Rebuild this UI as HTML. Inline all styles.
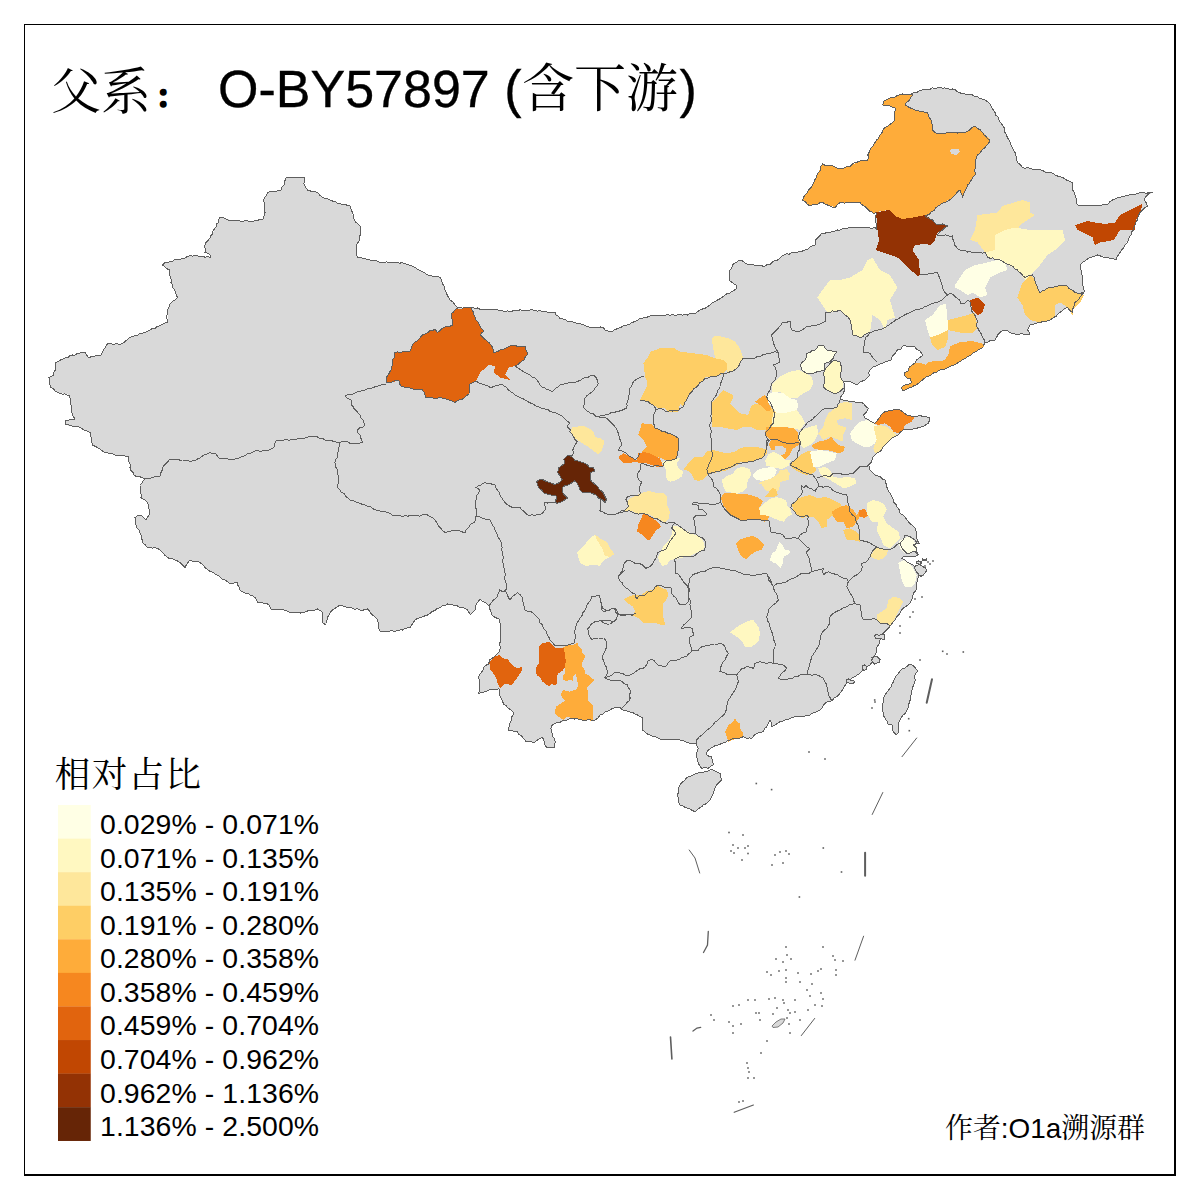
<!DOCTYPE html><html><head><meta charset="utf-8"><title>父系 O-BY57897</title><style>html,body{margin:0;padding:0;background:#fff;}svg{display:block;}</style></head><body>
<svg width="1200" height="1200" viewBox="0 0 1200 1200">
<rect x="0" y="0" width="1200" height="1200" fill="#fff"/>
<g shape-rendering="crispEdges">
<polygon points="48.75,377.5 53.75,375 56,362.5 72.5,355 85,352.5 88.75,357.5 101,355 107.5,343.75 122.5,343.75 130,337.5 145,332.5 167.5,322.5 167.5,310 170,303.75 177.5,297.5 171,282.5 170,270 162.5,265 165,262.5 195,255 210,257.5 210,255 205,252.5 205,245 212.5,233.75 220,217.5 235,221 253.75,221 263.75,218.75 265,212.5 263.75,200 267.5,192.5 281,190 284,185 286,178 300,177.5 305,178 303.75,183.75 307.5,190 317.5,192.5 322.5,197.5 330,200 340,203.75 350,206 353.75,218.75 361,227.5 360,240 356,246 357.5,257.5 370,260 384,262.5 402.5,262.5 415,267.5 427.5,275 440,277.5 442.5,283.75 450,300 457.5,307.5 472.5,307.5 490,310 512.5,311 530,310 555,312.5 560,318.75 576.7,323.3 588.3,326.7 603.3,327.5 605,330 611.7,331.7 618.3,328.3 626.7,325 635,321.7 640,318.5 655,315 677.5,315 695,314 702.5,309 717.5,300 725,295 736,289 736,285 729,280 729,272.5 732.5,265 739,260 750,265 765,266 777.5,260 784,255 805,250 815,245 815,240 821,234 837.5,230 852.5,227.5 875,227.5 877,230 876,220 876,212.5 874,214 860,202.5 840,202.5 835,207.5 822.5,202.5 810,206 802.5,200 805,195 812.5,185 822.5,164 842.5,169 860,161 867.5,160 869,152.5 875,142.5 885,127.5 895,120 895,107.5 882.5,105 884,101 892.5,97.5 902.5,94 911,94 922.5,90 940,87.5 952.5,89 962.5,94 972.5,95 985,100 990,104 995,112.5 999,120 1002.5,125 1005,132.5 1007.5,137.5 1011,145 1015,152.5 1017.5,162.5 1022.5,167.5 1035,169 1050,172.5 1057.5,176 1072.5,182.5 1072.5,190 1075,195 1077.5,205 1090,206 1107.5,205 1112.5,200 1125,196 1140,192.5 1152.5,192.5 1147.5,195 1144,200 1147.5,206 1140,212.5 1135,225 1131,235 1125,245 1120,252.5 1116,260 1107.5,257.5 1097.5,255 1090,257.5 1080,265 1082.5,277.5 1084,292.5 1075,302.5 1072.5,312.5 1067.5,307.5 1060,312.5 1050,320 1040,322.5 1030,325 1027.5,330 1030,335 1015,334 1005,330 1000,332.5 995,340 985,342.5 983.5,346.5 976.7,351.5 970.8,355 965,358.5 959.2,362 953.3,365.5 947.5,367.8 940,370 936.7,372 932,374 926.7,376.7 923.3,379.3 920,382 916.7,384.7 911.3,387.3 906.7,389.3 902.7,390.7 901.3,388 902.7,386 908,384.7 911.3,382.7 910.7,378.7 906.7,378 904,375.3 904,372.7 908,371.3 909.3,367.3 912.7,364.7 915.3,362.7 916.7,360 920,357.3 922.7,355.3 920,350.7 916.7,349.3 914,346 908,346.7 902.7,346 900.7,349.3 897.3,350 895.3,353.3 892,356.7 890.7,360.7 885.3,362 880,364 873.3,366.7 870,370 868.7,372.7 869.3,376 864.7,380 860,382 856.7,385 850,381.7 843.3,381.7 845,386.7 843.3,393.3 840,398.3 843.3,400 853.3,401.7 863.3,403.3 868.3,408.3 866.7,411.7 863.3,415 865,418.3 871.7,421.7 875,423.3 880,416.7 885,411.7 893.3,410 900,410 906.7,415 915,416.7 920,415 930,418.3 928.3,423.3 923.3,426.7 916.7,428.3 908.3,430 903.3,430 898.3,435 895,436.7 890,440 886.7,443.3 883.3,446.7 880,451.7 876.7,453.3 873.3,456.7 871.7,461.7 868.3,465 870,470 873.3,473.3 880,476.7 885,480 886.7,486.7 890,493.3 893.3,500 896.7,506.7 898.3,508.3 900,513.3 905,516.7 908.3,521.7 911.7,525 915,528.3 916.7,533.3 916.7,538.3 919.2,543.3 913.3,545 916.7,548.3 918.3,555 910,556.7 903.3,556.7 901.7,558.3 906.7,561.7 913.3,565 916.7,570 918.3,576.7 916.7,583.3 916.7,588.3 913.3,593.3 911.7,600 908.3,605 903.3,608.3 900,613.3 896.7,616.7 893.3,621.7 888.3,628.3 885,631.7 881.7,635 880,640 878.3,645 876.7,650 875,655 873.3,660 870,665 866.7,666.7 863.3,670 860,673.3 855,676.7 850,680 846.7,683.3 843.3,688.3 840,693.3 836.7,696.7 830,701.7 825,703.3 821.7,708.3 816.7,711.7 810,715 803.3,716.7 796.7,716.7 790,718.3 785,720 780,721.7 775,725 771.7,726.7 770,720 766.7,726.7 763.3,731.7 756.7,733.3 751.7,738.3 746.7,738.3 743.3,736.7 736.7,738.3 730,740 721.7,743.3 713.3,746.7 708.3,750 706.7,755 711.7,756.7 713.3,765 708.3,768.3 701.7,768.3 698.3,763.3 696.7,756.7 698.3,748.3 696.7,743.3 690,743.3 685,741.7 680,740 675,740 660,739 650,735 642.5,730 642.5,717.5 632.5,712.5 622.5,710 620,707.5 615,707.5 610,710 600,715 595,720 580,719.5 571,718 565,721 557.5,722.5 551.5,725.5 551.5,731.5 554.5,739 554.5,748 548.5,748 545.5,746.5 542.5,737.5 535,742 526,742 521.5,736 517,731.5 508,730 509.5,725.5 511.8,719.5 513.3,712 509.5,709 503.5,704.5 499.8,695.5 499,688.8 490,689.5 482.5,692.5 478.8,693.3 480,685 478.8,676 481,673 484,667 488.5,664 490,659.5 496,655 499,652 500,646 500.5,640 500.5,629.5 499,619 491.5,614.5 489,606 485.5,602.5 480,598.8 476.5,604 475,610 470.5,614.5 467.5,610 457.5,606 447.5,604 440,607.5 427.5,615 415,620 410,627.5 402.5,630 390,631 380,631 377.5,620 372.5,615 367.5,609 360,610 350,607.5 340,605 332.5,610 327.5,617.5 326,625 322.5,622.5 322.5,612.5 317.5,609 302.5,612.5 290,612.5 280,609 272.5,610 267.5,604 257.5,602.5 255,597.5 250,595 240,590 237.5,582.5 230,584 225,580 215,574 205,567.5 200,562.5 190,560 185,567.5 177.5,561 167.5,557.5 162.5,552.5 155,547.5 147.5,547.5 142.5,542.5 141,535 136,525 135,517.5 141,515 146,520 150,512.5 147.5,502.5 141,497.5 140,485 145,479 134,475 130,467.5 129,456 115,455 105,452.5 100,449 92.5,445 90,432.5 80,427.5 65,425 65,421 75,419 72.5,415 71,405 70,395 57.5,392.5 51,387.5" fill="#D9D9D9"/>
<polygon points="680,785 688.3,776.7 696.7,773.3 705,771.7 713.3,770 720,773.3 721.7,780 716.7,785 713.3,793.3 710,800 701.7,806.7 695,811.7 688.3,808.3 680,805 677.5,795" fill="#D9D9D9"/>
<polygon points="909.3,664 912.7,665.3 916,668.7 918,671.3 915.3,673.3 915.3,680 912.7,688 910.7,696 908.7,705.3 905.3,713.3 900.7,718.7 898.7,724 898,733.3 896,734.7 893.3,732 892.7,725.3 888,724 885.3,718.7 882.7,710.7 883.3,700 885.3,694.7 889.3,689.3 892,684 896,676 901.3,669.3 906.7,666.7" fill="#D9D9D9"/>
</g>
<g shape-rendering="crispEdges">
<polygon points="457.5,308.75 471,308 476,320 484,331 480,335 491,345 494,352.5 500,350 510,346 525,346 527.5,352.5 524,360 515,366 509,367.5 505,375 510,380 500,377.5 494,372.5 495,366 489,365 480,372.5 476,381 470,384 469,394 462.5,399 455,402.5 449,400 440,397.5 426,397.5 422.5,390 412.5,389 401,386 399,381 386,382.5 386,379 391,370 395,352.5 410,351 412.5,345 422.5,335 435,329 437.5,332.5 444,327.5 452.5,325 451,314 455,310" fill="#E1640E"/>
<polygon points="567.5,455.3 572,456.8 575,460.5 581,462 585.5,463.5 589.3,467.3 593.8,468 594.5,471 590.8,472.5 590,478.5 591.5,481.5 595.3,484.5 599,489 602.8,492 605,496.5 606.5,499.5 605,502.5 602,499.5 598.3,498 596,495 592.3,493.5 587,492.8 581.8,492 579.5,489.8 578.8,486 576.5,482.3 574.3,480.8 570.5,483.8 567.5,485.3 562.3,487.5 562.3,492 566,496.5 567.5,498 563,501 560,502.5 556.3,503.3 555.5,501 557,496.5 554,495 551,495 548,494.3 544.3,493.5 541.3,489.8 537.5,485.3 536.8,481.5 539.8,479.3 545,480.8 551,483 554.8,484.5 558.5,483 562.3,480 560,476.3 557.8,472.5 558.5,468 561.5,465.8 564.5,463.5 563.8,459 566,456.8" fill="#662506"/>
<polygon points="572,427.5 575,426.8 582.5,426 586.3,426.8 590,429 593.8,432.8 595.3,437.3 600.5,438 603.5,440.3 603.5,444.8 601.3,451.5 598.3,454.5 594.5,451.5 588.5,447 582.5,443.3 578,440.3 573.5,437.3 570.5,432" fill="#FEE79B"/>
<polygon points="577,552 583,547 589,539 595,534.5 601,539 607,542 610,548 614.5,554 610,557 604,560 599.5,566 593.5,564.5 586,566 580,563" fill="#FFF8C1"/>
<polygon points="595,534.5 601,539 607,542 610,548 614.5,554 610,557 605,556 602,548 597,540" fill="#FEE79B"/>
<polygon points="628,500 635.5,495.5 643,492.5 649,491 655,492.5 662.5,492.5 667,497 667,504.5 670,512 668.5,519.5 664,522.5 659.5,519.5 655,518 650.5,515 644.5,513.5 637,513.5 631,510.5 623.5,512 628,506" fill="#FEE79B"/>
<polygon points="643,513.5 647.5,515 652,518 656.5,521 659.5,524 661,527 656.5,530 653.5,534.5 649,540.5 646,539 641.5,534.5 637,531.5 638.5,524 641.5,518" fill="#F6871F"/>
<polygon points="671.5,527 676,525.5 682,528.5 688,531.5 694,534.5 698.5,536 703,540.5 704.5,546.5 703,551 697,552.5 691,555.5 685,557 677.5,558.5 670,560 667,564.5 662.5,566 659.5,561.5 658,557 661,551 664,545 668.5,540.5 671.5,534.5" fill="#FFF8C1"/>
<polygon points="623.5,599 629.5,596 635.5,594.5 641.5,594.5 646,591.5 652,590 656.5,585.5 662.5,588.5 667,590 668.5,594.5 665.5,600.5 662.5,605 662.5,614 664,620 665.5,624.5 659.5,624.5 655,623 649,623 643,623 638.5,618.5 632.5,615.5 635.5,611 632.5,606.5 628,603.5" fill="#FECE65"/>
<polygon points="730,632.5 736,627.5 740,625 747.5,621 753.3,620 758.3,626.7 760,633.3 758.3,641.7 751.7,646.7 745,646.7 742,641 737.5,637.5" fill="#FFF8C1"/>
<polygon points="736,543.5 740.5,539 746.5,537.5 753.3,535.8 760,540 764,545 761.7,549.7 754.7,552 750,555.5 746.5,559 741.8,556.7 738.3,550.8" fill="#FEAC3A"/>
<polygon points="769.8,560.2 772.2,553.2 775.7,550.8 778,545 779.2,541.5 782.7,545 785,549.7 790.8,550.8 788.5,554.3 783.8,556.7 782.7,563.7 780.3,568.3 776.8,563.7 773.3,562.5" fill="#FFFFE5"/>
<polygon points="720.8,498.3 724.3,492.5 731.3,492.5 737.2,493.7 743,493.7 750,494.8 757,497.2 762.8,500.7 761.7,504.2 759.3,507.7 760.5,512.3 766.3,513.5 769.8,515.8 767.5,520.5 764,521.7 758.2,519.3 750,519.3 743,520.5 737.2,518.2 731.3,514.7 726.7,510 723.2,505.3" fill="#FEAC3A"/>
<polygon points="759.3,508.8 761.7,505.3 766.3,501.8 771,498.3 776.8,497.2 781.5,498.3 786.2,500.7 787.3,505.3 790.8,510 792,514.7 787.3,517 783.8,521.7 779.2,520.5 773.3,518.2 768.7,515.8 760.5,514.7" fill="#FFF8C1"/>
<polygon points="791.7,505 798.3,498.3 803.3,496.7 810,495 818.3,498.3 825,496.7 833.3,500 840,503.3 843.3,508.3 836.7,511.7 833.3,515 826.7,520 826.7,526.7 821.7,528.3 818.3,521.7 813.3,516.7 806.7,516.7 801.7,518.3 795,513.3" fill="#FECE65"/>
<polygon points="831.7,511.7 840,506.7 846.7,505 853.3,510 856.7,515 860,510 865,510 868.3,515 866.7,517 860,516.7 856.7,521.7 853.3,526.7 846.7,528.3 843.3,521.7 836.7,521.7 833.3,516.7" fill="#FEAC3A"/>
<polygon points="859,510 865,509 868.3,515 864,518 859,516" fill="#F6871F"/>
<polygon points="843.3,530 850,528.3 856.7,531.7 860,536.7 860,541.7 853.3,540 846.7,540 845,535" fill="#FECE65"/>
<polygon points="866.7,503.3 873.3,500 880,501.7 885,505 886.7,510 883.3,516.7 886.7,523.3 893.3,528.3 898.3,531.7 900,538.3 895,543.3 890,548.3 883.3,545 880,536.7 876.7,530 878.3,521.7 871.7,521.7 866.7,513.3" fill="#FFF8C1"/>
<polygon points="898.3,541.7 903.3,538.3 908.3,536.7 913.3,540 916.7,545 916.7,550 910,553.3 905,553.3 900,548.3" fill="#FFFFE5"/>
<polygon points="870,556.7 873.3,551.7 876.7,546.7 881.7,548.3 888.3,550 886.7,555 883.3,558.3 878.3,560 873.3,558.3" fill="#FEE79B"/>
<polygon points="898.3,563.3 903.3,560 908.3,563.3 913.3,568.3 916.7,575 915,583.3 911.7,586.7 905,586.7 901.7,580 900,571.7" fill="#FFFFE5"/>
<polygon points="876.7,615 881.7,611.7 886.7,608.3 888.3,600 893.3,596.7 900,598.3 903.3,601.7 900,608.3 896.7,615 893.3,621.7 890,626.7 886.7,623.3 880,623.3 876.7,620" fill="#FEE79B"/>
<polygon points="725,731.7 728.3,725 733.3,721.7 735,718.3 736.7,721.7 740,723.3 740,728.3 743.3,733.3 743.3,736.7 736.7,738.3 728.3,741.7 726.7,736.7" fill="#FEAC3A"/>
<polygon points="489.3,661.8 494.5,656.5 499,655 502,658 508,659.5 511,664 517,668.5 521.5,667 522.3,670 518.5,676 514,682 511,685 505,683.5 500.5,688 497.5,683.5 496,677.5 493,673 490,670" fill="#E1640E"/>
<polygon points="539.2,645.8 542.5,643.3 549.2,641.7 551.7,644.2 555,647.5 560,648.3 563.3,647.5 565,653.3 565.8,661.7 565,666.7 562.5,670.8 558.3,673.3 556.7,676.7 557.5,681.7 555.8,685 551.7,684.2 549.2,686.7 545.8,684.2 542.5,681.7 540,677.5 536.7,675 535.8,670.8 536.7,665.8 539.2,663.3 539.2,655" fill="#E1640E"/>
<polygon points="563.3,647.5 566.7,645.8 570,644.2 573.3,645 577.5,642.5 578.3,645.8 581.7,649.2 582.5,653.3 585,655 584.2,659.2 581.7,663.3 581.7,666.7 584.2,668.3 585,673.3 589.2,675.8 594.2,680 590.8,684.2 586.7,688.3 588.3,691.7 588.3,700.8 592.5,705 592.5,717.5 594.2,721 585,720 575,719 566.7,716.7 563.3,720 557.5,715.8 555,713.3 555.8,706.7 560,704.2 565,700.8 561.7,696.7 560.8,694.2 563.3,690 570,691.7 576.7,689.2 578.3,685 577.5,681.7 575.8,674.2 573.3,676.7 573.3,680.8 570,680 566.7,680.8 563.3,680 562.5,676.7 565,673.3 565,666.7 565.8,661.7 565,653.3" fill="#FEAC3A"/>
<polygon points="643.3,363.3 648.3,356.7 650.8,351.7 660,348.3 673.3,347.5 680,351.7 693.3,353.3 706.7,355 715,358.3 723.3,360 726.7,363.3 726.7,370 723.3,373.3 720,375 713.3,376.7 705,377.5 701.7,381.7 696.7,386.7 690,393.3 686.7,400 683.3,406.7 680,403.3 678.3,411.7 668.3,411.7 665,408.3 658.3,408.3 653.3,405 648.3,401.7 640,400 643.3,393.3 646.7,386.7 647.5,381.7 645,376.7 644.2,368.3" fill="#FECE65"/>
<polygon points="713.3,336.7 718.3,335.8 728.3,338.3 735,341.7 740,348.3 743.3,358.3 740,363.3 736.7,368.3 731.7,371.7 726.7,373.3 726.7,363.3 723.3,360 715,358.3 713.3,348.3 711.7,340" fill="#FEE79B"/>
<polygon points="618.3,456.7 623.3,453.3 626.7,455 633.3,458.3 636.7,460 638.3,453.3 646.7,451.7 653.3,455 660,458.3 663.3,466.7 656.7,466.7 651.7,465 646.7,463.3 641.7,463.3 635,461.7 628.3,463.3 623.3,463.3 620,460" fill="#F6871F"/>
<polygon points="641.7,423.3 651.7,424.2 655,428.3 665,431.7 673.3,435 678.3,438.3 678.3,450 676.7,460 665,460 661.7,458.3 656.7,456.7 650,453.3 641.7,451.7 646.7,446.7 643.3,440 638.3,435 640,430" fill="#FEAC3A"/>
<polygon points="661.7,461.7 670,460 676.7,458.3 680,458.3 676.7,463.3 678.3,468.3 683.3,471.7 681.7,476.7 676.7,480 670,481.7 666.7,480 665.8,470 663.3,465" fill="#FFF8C1"/>
<polygon points="683.5,469.2 689.3,462.2 694,457.5 703.3,456.7 706.7,451.7 713.3,450 720,451.7 726.7,453.3 735,451.7 740,448.3 746.7,446.7 755,446.7 761.7,448.2 766.3,449.3 767.5,452.8 764,456.3 759.3,458.7 752.3,461 745.3,462.2 740.7,462.2 736,465.7 731.3,468 726.7,470.3 720.8,471.5 715,472.7 709.2,473.8 703.3,479.7 698.7,480.8 694,479.7 691.7,473.8 687,470.3" fill="#FECE65"/>
<polygon points="711.7,403.3 716.7,398.3 720,393.3 723.3,390 726.7,391.7 733.3,395 733.3,398.3 730,403.3 733.3,406.7 740,413.3 748.3,415 751.7,405 760,403.3 765,395 768.3,403.3 773.3,410 776.7,413.3 773.3,420 771.7,426.7 765,430 756.7,430 750,426.7 743.3,426.7 736.7,430 726.7,428.3 720,426.7 711.7,426.7 711.7,413.3" fill="#FECE65"/>
<polygon points="755,401.7 761.7,396.7 765,395 768.3,401.7 771.7,410 766.7,411.7 760,405" fill="#FEAC3A"/>
<polygon points="771.7,385 780,376.7 790,371.7 798.3,370 806.7,373.3 811.7,376.7 813.3,383.3 810,390 803.3,393.3 796.7,398.3 790,398.3 783.3,393.3 778.3,391.7 771.7,391.7" fill="#FFF8C1"/>
<polygon points="800,365 805,360 806.7,353.3 815,350 818.3,345 823.3,345 826.7,350 833.3,351.7 836.7,351.7 833.3,358.3 830,361.7 825,363.3 825,370 818.3,371.7 813.3,373.3 806.7,373.3 801.7,370" fill="#FFFFE5"/>
<polygon points="825,370 830,363.3 835,360 840,361.7 841.7,368.3 840,375 843.3,381.7 843.3,388.3 840,391.7 836.7,393.3 833.3,393.3 826.7,390 823.3,386.7 825,380 823.3,375" fill="#FFF8C1"/>
<polygon points="766.7,395 773.3,391.7 783.3,393.3 790,398.3 796.7,400 798.3,406.7 796.7,410 790,411.7 783.3,413.3 776.7,413.3 773.3,408.3 768.3,403.3" fill="#FFFFE5"/>
<polygon points="773.3,413.3 783.3,413.3 790,411.7 796.7,410 801.7,416.7 805,423.3 800,430 793.3,428.3 785,426.7 778.3,426.7 771.7,426.7 771.7,420" fill="#FFF8C1"/>
<polygon points="766.7,426.7 773.3,426.7 783.3,426.7 793.3,428.3 798.3,433.3 798.3,440 790,441.7 781.7,440 773.3,440 768.3,438.3 765,433.3" fill="#FEAC3A"/>
<polygon points="768.7,444.7 771,440 800.2,440 799,444.7 792,449.3 789.7,455.2 785,459.8 781.5,461 780.3,455.2 776.8,449.3 773.3,450.5 771,449.3" fill="#FEAC3A"/>
<polygon points="774.5,446 781,445.5 786.5,449 785,454 779,455.5 774.5,451.5" fill="#D9D9D9"/>
<polygon points="765.2,461 768.7,454 773.3,451.7 780.3,455.2 785,459.8 790.8,459.8 788.5,465.7 781.5,469.2 776.8,468 771,466.8 766.3,465.7" fill="#FFF8C1"/>
<polygon points="789.7,465.7 794.3,459.8 800.2,455.2 806,451.7 810.7,450.5 813,455.2 813,463.3 816.5,470.3 811.8,473.8 806,475 800.2,472.7 794.3,469.2" fill="#FECE65"/>
<polygon points="722,479.7 726.7,476.2 732.5,473.8 737.2,468 743,466.8 750,469.2 751.2,475 747.7,480.8 746.5,487.8 743,491.3 737.2,493.7 731.3,492.5 725.5,491.3 723.2,486.7" fill="#FFF8C1"/>
<polygon points="752.3,475 757,470.3 764,468 773.3,466.8 776.8,470.3 774.5,476.2 768.7,479.7 761.7,480.8 755.8,479.7" fill="#FFFFE5"/>
<polygon points="758.2,483.2 764,480.8 771,478.5 776.8,475 780.3,470.3 787.3,469.2 789.7,473.8 788.5,479.7 780.3,482 779.2,489 776.8,491.3 771,490.2 766.3,491.3 764,487.8 761.7,484.3" fill="#FEE79B"/>
<polygon points="764,497.2 768.7,492.5 772.2,487.8 775.7,489 778,494.8 773.3,497.2" fill="#FECE65"/>
<polygon points="810,451.7 820,450 830,451.7 836.7,453.3 835,460 826.7,463.3 820,466.7 813.3,466.7 811.7,460" fill="#FFFFE5"/>
<polygon points="798.3,435 801.7,430 810,426.7 816.7,425 818.3,433.3 815,440 810,445 803.3,448.3 800,445" fill="#FFF8C1"/>
<polygon points="818.3,433.3 823.3,426.7 825,420 828.3,413.3 835,408.3 840,403.3 846.7,401.7 851.7,403.3 851.7,413.3 851.7,423.3 846.7,426.7 843.3,435 843.3,441.7 835,438.3 830,436.7 823.3,440" fill="#FEE79B"/>
<polygon points="836.7,420 845,418.3 851.7,420 851.7,426.7 843.3,426.7 838.3,425" fill="#D9D9D9"/>
<polygon points="811.7,445 818.3,441.7 826.7,440 831.7,436.7 833.3,440 838.3,445 845,446.7 843.3,451.7 838.3,453.3 833.3,451.7 826.7,450 820,450 813.3,448.3" fill="#FEAC3A"/>
<polygon points="850,433.3 855,426.7 860,421.7 866.7,420 873.3,423.3 878.3,426.7 878.3,436.7 875,443.3 870,446.7 863.3,446.7 856.7,443.3 851.7,440" fill="#FFFFE5"/>
<polygon points="873.3,426.7 880,425 886.7,426.7 891.7,430 896.7,435 890,440 885,445 880,451.7 875,453.3 873.3,448.3 876.7,440" fill="#FEE79B"/>
<polygon points="875,423.3 880,416.7 885,411.7 893.3,410 900,410 906.7,415 915,416.7 911.7,421.7 905,425 903.3,430 898.3,433.3 893.3,431.7 890,426.7 885,423.3 878.3,425" fill="#F6871F"/>
<polygon points="818.3,468.3 825,466.7 830,470 833.3,476.7 840,478.3 846.7,476.7 855,478.3 856.7,483.3 850,486.7 843.3,488.3 838.3,485 830,480 823.3,476.7 820,473.3" fill="#FFF8C1"/>
<polygon points="802.5,200 805,195 812.5,185 822.5,164 842.5,169 860,161 867.5,160 869,152.5 875,142.5 885,127.5 895,120 895,107.5 882.5,105 884,101 892.5,97.5 902.5,94 911,94 912.5,95 905,105 915,110 927.5,112.5 931,120 932.5,130 937.5,134 950,132.5 965,132.5 975,126 982.5,132.5 990,140 985,147.5 977.5,155 975,165 975,175 967.5,185 962.5,197.5 960,190 952.5,197.5 940,205 927.5,215 925,215 912.5,217.5 902.5,219 895,216 889,210 880,211 874,214 860,202.5 840,202.5 835,207.5 822.5,202.5 810,206" fill="#FEAC3A"/>
<polygon points="950,150 954,148.5 959,149 960,152 956,155 951,154" fill="#D9D9D9"/>
<polygon points="876,212.5 889,210 895,216 902.5,219 912.5,217.5 925,215 932.5,220 937.5,225 942.5,224 947.5,226 942.5,230 937.5,232.5 935,240 931,245 925,244 915,245 912.5,250 919,260 920,275 917.5,276 905,265 897.5,257.5 876,250 879,240 877.5,230" fill="#933204"/>
<polygon points="817.5,297.5 822.5,290 830,280 840,280 850,277.5 862.5,270 867.5,260 872.5,257.5 880,270 890,275 897.5,287.5 890,300 895,317.5 887.5,320 885,330 880,320 872.5,315 870,332.5 860,337.5 852.5,335 850,320 845,315 840,310 827.5,312.5 822.5,305" fill="#FFF8C1"/>
<polygon points="970,240 975,230 977.5,215 997.5,212.5 1002.5,206 1022.5,200 1030,202.5 1030,212.5 1035,215 1027.5,220 1020,225 1017.5,230 1000,235 995,242.5 995,250 985,252.5 977.5,242.5" fill="#FEE79B"/>
<polygon points="995,235 1005,230 1015,227.5 1030,230 1040,230 1050,230 1062.5,230 1065,240 1055,250 1047.5,255 1040,265 1035,270 1025,280 1017.5,270 1007.5,265 1000,260 987.5,257.5 985,252.5 995,250" fill="#FFF8C1"/>
<polygon points="1075,225 1087.5,221 1095,222.5 1105,224 1115,222.5 1120,215 1130,210 1140,205 1142.5,204 1141,210 1136,220 1135,230 1130,230 1120,230 1114,240 1100,242.5 1095,245 1092.5,237.5 1082.5,232.5 1077.5,230" fill="#C14702"/>
<polygon points="955,285 965,270 975,265 987.5,262.5 1000,259 1005,262.5 1007.5,270 1000,272.5 990,277.5 985,287.5 987.5,295 980,297.5 972.5,292.5 967.5,295 960,290 955,287.5" fill="#FFFFE5"/>
<polygon points="1017.5,297.5 1022.5,282.5 1030,275 1035,280 1040,292.5 1050,287.5 1065,285 1075,292.5 1084,295 1080,302.5 1072.5,310 1072.5,315 1067.5,307.5 1060,302.5 1055,305 1055,315 1050,320 1040,322.5 1030,320 1025,315 1022.5,305" fill="#FECE65"/>
<polygon points="970,300 977.5,297.5 985,305 982.5,312.5 977.5,315 972.5,310" fill="#C14702"/>
<polygon points="925,320 932.5,315 940,305 946,304 947.5,320 947.5,330 937.5,335 930,337.5 927.5,330" fill="#FFFFE5"/>
<polygon points="947.5,320 957.5,317.5 967.5,315 975,312.5 977.5,327.5 972.5,332.5 960,332.5 947.5,330" fill="#FECE65"/>
<polygon points="930,337.5 937.5,335 947.5,330 947.5,340 945,347 937.5,350 932,345" fill="#FECE65"/>
<polygon points="909.3,367.3 912.7,364.7 914.7,363.3 920,362.7 926,364.7 927.3,362.7 933.3,361.3 940,361.3 945.2,359.7 948.7,353.8 949.8,346.8 959.2,342.2 972,341 981.3,343.3 983.7,345.7 983.5,346.5 976.7,351.5 970.8,355 965,358.5 959.2,362 953.3,365.5 947.5,367.8 940,370 936.7,372 932,374 926.7,376.7 923.3,379.3 920,382 916.7,384.7 911.3,387.3 906.7,389.3 902.7,390.7 901.3,388 902.7,386 908,384.7 911.3,382.7 910.7,378.7 906.7,378 904,375.3 904,372.7 908,371.3" fill="#FEAC3A"/>
</g>
<g fill="none" stroke="#5E5E5E" stroke-width="1" stroke-linejoin="round" stroke-linecap="round" shape-rendering="crispEdges">
<polyline points="145,479 147.59,478.97 150.07,478.35 152.48,477.39 154.93,476.67 157.5,476.52 160,476 160.71,473.13 162.05,470.45 162.5,467.5 164.17,465.19 166.23,463.23 168.21,461.2 170,459 172.45,459.77 175,459.41 177.52,459.3 179.97,460.16 182.5,460 184.98,460.41 187.53,460.15 189.94,461.32 192.5,461 195.3,460.35 197.69,458.89 200.25,457.75 202.5,456 204.89,454.59 207.64,453.96 210,452.5 212.86,453.79 216,454 217.8,456.66 220,459 222.5,458.96 225,458.44 227.5,458.91 230,459.16 232.5,459.58 235,459 237.69,458.88 240,457.5 242.49,456.39 245.2,455.8 247.37,453.94 250.17,453.56 252.53,452.15 255,451 257.5,450.32 260,451.31 262.5,450.86 265,451 268.16,450.26 271.09,448.89 274,447.5 274.33,444.04 276,441 278.69,440.74 281.42,441.01 284.03,439.89 286.73,439.76 289.49,440.27 292.08,439.07 294.82,439.34 297.5,439 299.94,438.21 302.61,438.79 305.07,438.13 307.49,437.21 309.9,436.28 312.46,436.18 315,436 317.5,437.01 319.77,438.56 322.7,438.49 325,440 327.49,440.4 329.96,440.95 332.5,441 334.99,441.57 337.41,442.43 340,442.5 344,441"/>
<polyline points="344,441 346.88,441.26 349.37,442.97 352.15,443.61 355,444 357.43,443.16 360,442.99 362.5,442.5 361.43,440.03 360.7,437.42 359.88,434.85 357.97,432.71 357.5,430 359.63,427.78 362.76,427.06 365,425 363.67,422.54 362.83,419.84 360.63,417.81 360,415 358.14,413.05 356.63,410.79 354.32,409.25 353.26,406.58 351,405 351.56,402.5 351,400 347.64,398.55 345,396 347.31,394.61 350.02,394.56 352.68,394.34 354.95,392.84 357.39,391.87 359.97,391.4 362.31,390.12 365,390 367.52,388.88 370.23,388.42 372.87,387.74 375.4,386.64 378.02,385.89 380.64,385.12 383.36,384.7 386,384"/>
<polyline points="386,382.5 388.67,382.83 391.27,382.52 393.73,380.98 396.33,380.72 399,381 399.56,383.67 401,386 403.79,387.07 406.69,387.73 409.69,387.99 412.5,389 414.99,389.4 417.49,389.65 419.99,389.86 422.5,390 424.1,392.3 424.92,394.96 426,397.5 428.8,397.35 431.6,397.81 434.4,398.19 437.2,398.13 440,397.5 442.98,398.39 446.02,399.09 449,400 452.12,400.95 455,402.5 457.23,400.74 459.72,399.57 462.5,399 464.64,397.29 466.68,395.47 469,394 469.08,391.48 470.05,389.05 469.79,386.5 470,384 473.04,382.58 476,381"/>
<polyline points="386,382.5 386,379 386.93,376.57 388.55,374.53 389.59,372.16 391,370 391.71,367.53 392.31,365.04 392.12,362.36 392.62,359.85 394.32,357.61 394.1,354.92 395,352.5 397.46,351.88 400.07,352.69 402.5,351.71 405.05,351.97 407.5,351.22 410,351 411.43,348.07 412.5,345 414.15,342.65 416.63,341.13 418.86,339.36 420.52,337.02 422.5,335 425.15,334.1 427.6,332.82 429.74,330.85 432.66,330.53 435,329 437.5,332.5 439.74,330.93 441.66,328.95 444,327.5 446.65,326.04 449.81,326.32 452.5,325 452.09,322.26 452.05,319.46 451.9,316.68 451,314 453.21,312.21 455,310 457.5,308"/>
<polyline points="471,308 472.34,310.26 473.51,312.59 474.13,315.14 475.45,317.41 476,320 478.09,321.84 479.31,324.32 480.33,326.94 482.06,329.05 484,331 481.74,332.74 480,335 482.46,336.71 484.37,339.04 486.81,340.77 489.11,342.66 491,345 492.51,347.3 493.37,349.85 494,352.5 497.23,351.8 500,350 502.67,349.43 505.16,348.4 507.66,347.39 510,346 512.5,345.57 515,345.73 517.5,346.18 520,346.32 522.5,346.5 525,346 525.75,349.44 527.5,352.5 526.86,355.24 525.03,357.44 524,360 521.62,361.3 519.5,362.99 517.5,364.88 515,366"/>
<polyline points="515,366 517.41,367.65 519.83,369.29 522.29,370.85 524.68,372.53 527.33,373.79 530,375 531.99,377.15 535.05,377.8 537,380 538.54,382.48 540,385 542.09,386.94 544.69,387.98 546.92,389.68 549.87,390.13 552,392 553.97,390.22 555.77,388.23 558.04,386.8 560,385 562.8,384.55 565.43,383.23 568.27,382.96 571.07,382.5 574.03,382.82 576.7,381.7 580.17,380.33 583.3,378.3 585.65,377.02 588.43,377.05 590.64,375.34 593.3,375 596.7,378.3 597.34,380.85 598.3,383.3 597.09,386.09 595,388.3 592.99,391.29 590,393.3 587.13,395.43 585,398.3 584.83,401.18 584.26,403.98 583.3,406.7 585.32,409.68 588.3,411.7 590.57,413.42 593.43,413.94 595.51,416.03 598.3,416.7"/>
<polyline points="476,381 478.16,382.46 480.48,383.58 483.01,384.23 485.47,385.03 487.96,385.78 490,387.5 492.46,387.02 494.79,386.06 497.3,385.75 499.55,384.53 502,384 503.92,386.12 506.54,387.42 508.23,389.82 510.46,391.58 512.91,393.07 515,395 517.48,396.3 519.89,397.73 522.69,398.37 525,400 527.47,401.32 529.81,402.88 532.65,403.46 534.81,405.38 537.38,406.48 540,407.5 542.35,408.79 545.07,408.95 547.68,409.46 549.87,411.23 552.37,412.07 555,412.5 557.53,413.68 560,415 562.36,416.23 564.27,418.01 566,420 569.8,423 566.8,426 568.51,428.03 570.5,429.8 569.8,432 571.88,434.06 573.5,436.5 574.89,439.52 577.3,441.8 575,444.8 573.79,447.35 572.8,450 573.22,452.65 572.8,455.3 570.15,455.08 567.5,455.3 566,456.8 563.8,459 564.5,463.5 561.5,465.8 558.5,468 557.8,472.5 560,476.3 562.3,480 558.5,483 554.8,484.5 551,483 547.93,482.08 545,480.8 542.57,479.47 539.8,479.3 536.8,481.5 537.5,485.3 538.96,487.92 541.3,489.8 544.3,493.5 548,494.3 551,495 554,495 557,496.5 555.5,501 556.3,503.3"/>
<polyline points="567.5,455.3 572,456.8 575,460.5 578.06,461.01 581,462 585.5,463.5 587.75,465.05 589.3,467.3 593.8,468 594.5,471 590.8,472.5 590.19,475.47 590,478.5 591.5,481.5 595.3,484.5 597.61,486.37 599,489 602.8,492 603.85,494.27 605,496.5 606.5,499.5 605,502.5 602,499.5 600,500"/>
<polyline points="556.3,503.3 555,502.5 552.5,502.88 550,501.85 547.5,503.02 545,502.5 544.71,505 545.58,507.5 545,510 542.75,512.75 540,515 537.5,514.3 535,515.41 532.5,514.8 530,515.06 527.5,515 525.58,513.17 523.75,511.25 521.57,509.68 520,507.5 517.5,507.04 515,508.07 512.5,507.5 509.79,506.14 507.13,504.73 505,502.5 503.06,500.18 501.56,497.57 500,495 499.25,492.25 497.35,490.08 495.77,487.74 495,485 492.42,484.7 490.17,483.08 487.35,483.72 485,482.5 482.67,483.6 480.58,485.15 478.14,486.05 476,487.5 480,490 478.87,492.61 477.1,494.87 476,497.5 476,500.14 475.79,502.79 475.44,505.43 475.89,508.07 476.5,510.71 476.61,513.36 476,516"/>
<polyline points="556.3,503.3 560,502.5 563,501 565.22,499.46 567.5,498 566,496.5 564.01,494.36 562.3,492 562.3,487.5 564.7,485.93 567.5,485.3 570.5,483.8 574.3,480.8 576.5,482.3 578.8,486 579.5,489.8 581.8,492 584.32,492.91 587,492.8 589.74,492.46 592.3,493.5 596,495 598.3,498 602,499.5 605,502.5"/>
<polyline points="340,442.5 339.4,444.98 339,447.5 338.6,450.02 337.89,452.48 337.5,455 337.06,457.63 335.42,459.86 335,462.5 335.19,465.11 336.04,467.55 337.34,469.88 337.5,472.5 337.97,475.01 338.74,477.45 339,480 338.84,482.57 337.38,484.88 337.5,487.5 340,490 341.51,492.49 344.45,493.55 345.64,496.36 347.9,498.1 350,500 352.55,500.68 355.1,501.38 357.42,502.73 360.02,503.28 362.42,504.41 365,505 367.42,506.21 370.19,506.52 372.36,508.35 374.75,509.63 377.26,510.61 380,511 382.46,511.87 385.18,511.82 387.69,512.48 390.14,513.36 392.33,515.17 395.08,515.02 397.5,516 400,515.81 402.5,516.56 405,515.74 407.5,516.07 410,515.91 412.5,515.39 415,516 417.51,515.92 420.04,516.08 422.46,514.92 424.97,514.82 427.5,515 430.07,516.57 432.86,517.79 435,520 436.67,522.5 437.96,525.25 440,527.5 442.34,530.16 445,532.5 447.51,531.92 450.12,531.73 452.38,530.15 455,530 457.48,530.72 460.04,531.08 462.47,532.01 465,532.5 466.22,529.7 468.65,527.71 470,525 472.25,523.24 475,522.5 475.04,519.18 476,516"/>
<polyline points="476,516 478.82,516.74 481.58,517.68 484.24,518.97 487.21,519.15 490,520 491.24,522.5 492.39,525.05 494.14,527.3 495,530 496.24,532.51 497.34,535.08 498.38,537.68 500,540 501.06,542.39 501.27,544.95 502.06,547.39 501.57,550.09 502.5,552.5 502.48,555.03 503.64,557.44 502.58,560.07 502.85,562.56 503.54,565.02 504,567.5 504.04,570.01 504.88,572.46 505.28,574.95 504.76,577.5 505,580 506.11,582.9 506.43,585.93 506.5,589 503.5,592 501.05,590.8 499,589 499.15,591.63 498.05,594.01 497.5,596.5 495.56,598.56 493.16,600.16 491.5,602.5 489,606"/>
<polyline points="505,590 506.28,592.48 507.3,595.1 508.54,597.6 510,600 511.52,597.77 513.27,595.77 515.5,594.25 517.5,592.5 520.22,594.78 522.5,597.5 522.57,600.09 523.24,602.55 523.86,605.03 524.42,607.52 525,610 527.43,611.05 530.16,611.2 532.5,612.5 535.06,614.94 537.5,617.5 539.41,619.76 540.01,622.79 542.53,624.68 543.12,627.73 545,630 546.78,632.23 547.27,635.12 548.95,637.4 550,640 552.09,641.91 553.66,644.34 556,646 558.5,645.33 561,645.39 563.5,646 566.15,645.89 568.5,644.68 571,644 575,642.5 574.43,640 575.68,637.5 575.63,635 574.46,632.5 575,630 575.73,627.47 576.18,624.84 577.5,622.5 579.03,619.61 581,617 582.4,614.83 583.09,612.27 584.99,610.38 586,608 586.96,605.18 588.61,602.76 590.5,600.5 592,596 594.5,596.44 597,595.86 599.5,596 600.36,598.97 601,602 601.62,605.03 602.5,608 604.77,609.47 607,611 609.93,609.36 613,608 615.03,609.61 615.75,612.19 617.5,614 620,614.65 622.5,614.67 625,614 627.46,614.72 630.04,614.8 632.5,615.5"/>
<polyline points="617.5,614 617.08,617.08 616,620 613,621.5 610.04,620.74 607.04,620.25 604,620 600.92,620.02 598.07,621.43 595,621.5 592.96,623.31 590.5,624.5 589.41,627.02 587.5,629 588.62,631.91 589,635 590.23,637.43 592,639.5 594.87,638.25 598,638 601,638.04 604,638 605.86,640.82 607,644 606.53,647.07 605.5,650 604.09,653.04 602.5,656 602.88,659.13 604.02,662.04 605,665 606.48,667.29 606.96,669.9 607.5,672.5 606.69,675.22 605,677.5 607.27,679.21 610,680 612.5,680.43 615,680.43 617.5,680.46 620,680 622.31,681.95 624.65,683.86 627.5,685 628.38,687.68 630,690 630.34,692.5 629.51,695 630.02,697.5 630,700 627.87,701.62 626.19,703.69 624.44,705.69 622.5,707.5"/>
<polyline points="692,650 690.76,652.35 688.45,653.82 687,656 684.58,656.8 682.09,657.43 680,659 677.56,659.81 675.07,660.34 672.44,660.18 670,661 668.16,662.86 666.88,665.18 665,667 661.57,665.75 658,665 655.9,663.1 654.27,660.73 652,659 648,661 646.98,664.24 645,667 642.82,668.36 640.11,668.48 638,670 635.11,672.17 632,674 628,676 625.22,675.31 622.82,673.6 620,673 617.54,672.32 615,672 612.81,674.38 610,676 607.47,676.93 605,678"/>
<polyline points="696,651 698.39,650.02 700,648 702.25,646.37 705,646 707.56,645.82 710,645 712.41,644.03 715,644 717.63,644.17 720,643 722.9,644.31 725,646.7 726.17,650.24 728.3,653.3 726.42,656.54 725,660 722.93,662.22 721.7,665 720.17,668.18 720,671.7 722.61,672.18 725.07,673.13 727.41,674.45 730,675 733.35,674.69 736.7,675"/>
<polyline points="736.7,675 737.69,678.3 738.3,681.7 737.23,684.48 736.21,687.28 735,690 733.41,692.54 731.7,695 730.1,697.57 728.3,700 727.29,703.3 726.7,706.7 726.18,710.08 725,713.3 721.7,716.7 719.35,718.22 717.64,720.58 715,721.7 713.58,724.35 711.7,726.7 709.33,728.54 706.7,730 704.55,732.85 701.7,735 698.96,737.26 696.7,740 696.7,743.3"/>
<polyline points="736.7,675 738.39,672.79 740.38,670.79 741.7,668.3 744.4,668.11 746.7,666.7 750.07,667.21 753.3,668.3 754.5,665.92 755,663.3 757.59,662.77 760,661.7 763.3,662.72 766.7,663.3 770,662.75 773.3,663.3 775.91,663.07 778.33,663.99 780.74,664.92 783.3,665 786.7,668.3 784.45,671.05 781.7,673.3 780,675.8 778.3,678.3 781.7,680 784.42,679.18 787.33,679.34 790,678.3 792.7,678.07 794.96,676.52 797.72,676.49 800,675 803.35,674.39 806.7,675"/>
<polyline points="806.7,675 809.2,674.55 811.7,675.23 814.2,674.77 816.7,675 820.19,676.27 823.3,678.3 824.45,680.53 825.57,682.76 826.7,685 827.13,687.5 827.56,689.99 828.23,692.45 828.3,695 830.3,697.83 831.7,701"/>
<polyline points="806.7,675 807.74,671.71 808.3,668.3 809.53,665.93 810,663.3 810.88,660.01 811.7,656.7 813.36,654.21 815,651.7 816.53,649.12 818.3,646.7 819.82,643.52 820,640 820.56,636.58 821.7,633.3 823.85,630.45 826.7,628.3 828.07,625.62 830,623.3 829.66,620 830,616.7 833.3,613.3 836.54,611.43 840,610 843.21,608.06 846.7,606.7 849.26,605.06 852.14,604.21 855,603.3"/>
<polyline points="855,603.3 857.32,604.69 860,605 860.31,607.82 860.77,610.61 861.7,613.3 861.95,616.78 863.3,620 865.8,619.66 868.3,620 870.86,619.33 873.3,618.3 876.7,620 880,623.3 883.35,623.87 886.7,623.3 890,626"/>
<polyline points="855,603.3 853.71,600.95 853.3,598.3 851.87,595.65 850,593.3 848.52,589.92 846.7,586.7 847.47,584.19 848.3,581.7 851.7,578.3 853.98,576.32 856.7,575 859.49,572.79 861.7,570 862.13,566.65 861.7,563.3 864.21,562.52 866.7,561.7 868.36,559.2 870,556.7 871.32,553.19 873.3,550 876.7,546.7"/>
<polyline points="801.3,485.5 803.7,487.8 806,485.5 808.57,487.8 811.8,489 815.3,491.3 816.38,488.72 818.3,486.7 820.8,486.03 823.3,487.4 825.8,486.26 828.3,486.7 830.85,487.94 832.64,490.2 835,491.7 837.57,492.29 840,493.3 843.22,494.68 846.7,495 847.6,497.7 847.14,500.66 848.3,503.3 849.11,506.05 849.29,508.93 850,511.7 852.07,514.63 855,516.7 855.76,519.55 856.44,522.44 858,525 858.38,527.74 859.95,530.18 860,533 859.47,536.5 860,540 863.32,540.97 866.7,541.7 870.12,543.11 873.3,545 876.7,546.7"/>
<polyline points="876.7,546.7 879.02,548.07 881.7,548.3 884.84,549.76 888.3,550 891.89,548.84 895,546.7 897.17,544.52 900,543.3 903.3,540 904.27,537.54 905,535 907.53,535.75 910,536.7 912.48,538.39 915,540 917,543"/>
<polyline points="900,543.3 901.38,546.78 903.3,550 906.7,553.3 909.56,553.23 912.15,551.8 915,551.7 918.3,555"/>
<polyline points="811.7,571.7 814.96,570.68 818.3,570 820.99,569.72 823.3,568.3 822.82,571.65 823.3,575 825.58,573.02 828.3,571.7 830.64,573 833.3,573.3 835.45,574.6 838.06,575 840,576.7 843.2,578.12 846.7,578.3 848.3,581.7"/>
<polyline points="766.7,573.3 767.71,576.13 769.71,578.48 771.03,581.16 771.85,584.08 773.3,586.7 775.45,584.49 778.3,583.3 781.17,583.15 783.97,582.6 786.7,581.7 789.71,579.43 793.3,578.3 796.23,576.85 798.9,574.97 801.7,573.3 804.2,573.49 806.7,573.3 809.39,573.11 811.7,571.7"/>
<polyline points="811.7,571.7 811.34,568.86 810.84,566.04 810,563.3 809.77,559.84 808.3,556.7 807.1,554.33 806.7,551.7 810,548.3 807.16,547.16 805,545 801.7,541.7 798.3,538.3"/>
<polyline points="798.3,538.3 800,535 803.11,532.86 806.7,531.7 807,528.23 808.3,525 808.44,522.23 807.85,519.47 808.3,516.7 806.7,515 804.18,516.48 801.3,517 798.98,515.89 796.7,514.7 794.3,511.2 790.8,507.7 792,504.2 794.28,502.36 796.7,500.7 798.13,498.11 800.2,496 802.5,492.5 801.75,489.03 801.3,485.5"/>
<polyline points="720.8,503 722.49,505.93 724.3,508.8 726.8,511 729,513.5 731.06,515.47 733.83,516.39 736,518.2 738.34,519.36 740.7,520.5 745.3,520.5 748.76,519.68 752.3,519.3 755.8,519.18 759.3,519.3 762.12,520.55 765.2,520.5 768.7,520.5 769.8,523.3 769.8,526.3 770.48,529.23 771,532.2 773.97,532.37 776.8,533.3 779.79,533.69 782.7,534.5 785,538 788.5,538.7 792,538 795.16,537.91 798.3,538.3"/>
<polyline points="688.3,586.7 688.92,583.91 689.14,581.04 690,578.3 693,574.5 697.5,573 700.27,571.76 703.3,571.8 706.12,570.83 708.61,569.09 711.5,568.3 715,567.2 717.96,567.42 720.8,568.3 723.55,568.56 726.24,569.3 729,569.5 731.76,570.77 734.8,570.7 737.77,571.8 740.7,573 744.08,574.28 747.7,574.2 751.09,575.43 754.7,575.3 758.14,574.39 761.7,574.2 764.09,573.16 766.7,573.3"/>
<polyline points="766.7,573.3 768.16,576.49 768.3,580 770.4,581.91 771.75,584.38 773.3,586.7 773.91,589.28 775,591.7 776.57,594.28 777.7,597.03 778.3,600 776.07,602.77 773.3,605 770.54,607.24 768.3,610 767.98,613.46 766.7,616.7 767.21,619.31 768.13,621.77 769.66,624.04 770,626.7 770.78,629.22 771.72,631.68 772.59,634.16 773.3,636.7 773.04,639.32 774.71,641.6 775.24,644.09 775,646.7 773.55,649.85 773.3,653.3 773.44,655.8 773.72,658.3 773.54,660.8 773.3,663.3"/>
<polyline points="723.3,373.3 723.21,376.12 722.37,378.76 721.59,381.41 720.12,383.89 720,386.7 718.75,389.2 717.22,391.56 716.75,394.45 715,396.7 713.34,399.19 711.7,401.7 711.22,404.6 711.67,407.5 711.08,410.4 711.7,413.3 710.83,415.91 711.2,418.68 711.37,421.43 709.99,423.98 710,426.7 710.86,429.29 711.36,431.93 710.7,434.72 710.88,437.4 711.7,440 711.13,443.49 711.5,447 711.47,450.61 712.7,454 711.92,457.25 710.92,460.41 709.2,463.3 708.49,466.45 706.8,469.2 708,473.8 709.21,476.55 711.5,478.5 712.79,481.09 713.49,483.84 713.8,486.7 716.62,488.52 718.5,491.3 720.25,494.6 720.8,498.3 720.8,503"/>
<polyline points="708,473.8 711.52,473 715,472 717.55,471.43 720.13,470.93 722.41,469.45 725,469 727.74,468.06 730.54,467.22 733.21,466.11 735.47,464.04 738.3,463.3 741.25,463.11 744.17,462.66 747.08,462.1 750,461.7 753.11,461.48 755.86,460.04 758.75,459.08 761.7,458.3 763.87,456.14 765,453.3 766.03,450.05 766.7,446.7"/>
<polyline points="776.7,330 774.17,332.47 771.7,335 772.38,338.38 773.3,341.7 773.86,344.21 774.79,346.56 775.81,348.87 777.47,350.91 778.3,353.3 778.25,356.22 779.54,358.88 780,361.7 776.77,363.59 773.3,365 774.94,366.98 775.55,369.47 776.7,371.7 776.61,374.56 775.88,377.3 775,380 771.7,383.3 770.7,386.61 770,390 768,393.18 766.7,396.7 767.7,399.52 769.86,401.76 771.21,404.41 772.29,407.19 773.3,410 774.08,412.52 775,415 773.97,417.67 773.45,420.45 773.3,423.3 771.15,425.17 769.87,427.69 768.3,430 765,433.3 766.48,436.73 768.3,440 767.78,443.42 766.7,446.7"/>
<polyline points="776.7,330 778.69,327.54 780.84,325.21 782.5,322.5 785.07,322.34 787.6,322 790,321 790.86,323.94 790.49,327.12 791.7,330 794.98,330.94 798.3,331.7 801.28,330.33 804.08,328.67 806.7,326.7 809.3,326.87 811.65,325.54 814.17,325.24 816.7,325 819.58,324.18 822.28,322.91 825,321.7 825.85,318.91 826,316 825,312.5 827.48,312.01 830.08,312.53 832.42,310.92 835.04,311.61 837.5,311 840,310 842.62,312.38 845,315 847.97,317.03 850,320 850.17,322.54 851.45,324.9 851.62,327.44 851.91,329.96 852.56,332.42 852.5,335 855.15,335.39 857.69,336.1 860,337.5 862.72,336.68 864.74,334.48 867.29,333.33 870,332.5"/>
<polyline points="870,332.5 868.53,335.13 866.1,337.12 865,340 864.16,342.45 864.02,344.95 864,347.47 863.68,349.96 864,352.5 867.09,352.21 870,353.3 871.5,355.9 873.3,358.3 876.7,361.7"/>
<polyline points="870,332.5 872.58,331.91 874.82,330.29 877.55,330.16 880.15,329.62 882.65,328.78 885,327.5 887.15,326.09 889.39,324.8 891.33,323.06 893.59,321.82 895.41,319.9 898,319.14 900,317.5 902.56,316.38 904.86,314.73 907.42,313.6 910.15,312.8 912.46,311.18 915,310 917.7,309.81 920.2,309.03 922.64,308.05 924.83,306.25 927.5,306 929.78,304.45 932.39,303.73 934.93,302.82 937.61,302.27 940,301 942.79,299.36 945.05,297.07 947.5,295"/>
<polyline points="920,275 922.53,274.84 924.99,274.19 927.54,274.24 929.91,272.97 932.54,273.49 934.98,272.68 937.5,272.5 938.19,275.05 939.6,277.35 940.21,279.93 941.14,282.4 941.89,284.92 942.5,287.5 943.47,290.14 945,292.5 947.5,295"/>
<polyline points="947.5,295 950.5,293.3 953.09,294.72 955.2,296.8 957.6,298.42 959.8,300.3 961,303.8 964.5,303.8 968,300.3 969.8,301.5 970.79,304.52 971.08,307.67 971.5,310.8 973.18,313.2 975,315.5 975.97,317.94 977.3,320.2 977.09,323.16 976.2,326 978.12,328.8 979.7,331.8 981.63,334.31 982.38,337.48 984.3,340 984.19,343.04 983.5,346"/>
<polyline points="937.5,235 940,235.11 942.46,235.86 945.04,234.85 947.52,235.36 949.96,236.48 952.5,236 952.77,239.04 954.01,241.91 954,245 956.14,246.5 957.66,248.74 960,250 962.52,250.42 965.13,250.35 967.39,252.04 970.1,251.49 972.5,252.5 975,252.7 977.5,252.67 980,252.44 982.5,253.15 985,252.5 986.66,254.8 987.5,257.5 989.97,258.14 992.61,257.97 994.87,259.64 997.6,259.01 1000,260 1002.49,261.27 1004.79,262.92 1007.26,264.23 1010,265 1012.81,266.2 1014.71,268.77 1017.5,270 1019.04,272.21 1021.43,273.57 1022.87,275.88 1025,277.5 1027.38,276.3 1029.85,275.37 1032.5,275 1034.01,277.31 1034.89,279.89 1035.29,282.68 1036.83,284.98 1037.23,287.77 1038.42,290.22 1040,292.5 1042.32,290.89 1044.96,289.92 1047.23,288.2 1050,287.5 1052.52,287.2 1055.03,286.82 1057.52,286.37 1059.91,285.27 1062.53,285.57 1065,285 1067.33,286.07 1068.71,288.38 1071.03,289.46 1073.34,290.55 1075,292.5 1078,293.17 1081,293.12 1084,292.5"/>
<polyline points="911,94 912.5,95 911.13,97.1 909.8,99.23 908.37,101.28 906.04,102.65 905,105 907.45,106.35 909.88,107.74 912.47,108.82 915,110 917.53,110.34 919.94,111.32 922.48,111.6 924.92,112.39 927.5,112.5 928.46,115.1 929.4,117.7 931,120 931.46,122.49 932.23,124.93 932.61,127.43 932.5,130 934.8,132.24 937.5,134 939.94,133.24 942.53,133.61 945.02,133.27 947.43,132.19 950,132.5 952.5,132.9 955,131.85 957.5,133.01 960,132.98 962.5,132.1 965,132.5 967.67,131.14 970.18,129.52 972.21,127.18 975,126 977.34,128.35 980.34,129.94 982.5,132.5 983.97,134.78 986.06,136.44 987.65,138.6 990,140 988.85,142.85 986.88,145.14 985,147.5 983.01,149.26 981.14,151.14 979.69,153.44 977.5,155 976.35,157.37 975.78,159.88 975.89,162.57 975,165 975.5,167.5 974.77,170 975.13,172.5 975,175 973.32,176.86 972.01,179.01 970.62,181.09 969.54,183.4 967.5,185 966.97,187.69 965.55,190.02 964.2,192.38 963.6,195.04 962.5,197.5 961.99,194.89 960.89,192.48 960,190 957.75,191.5 956.1,193.6 954.55,195.8 952.5,197.5 950.26,199.43 947.81,201.02 945.33,202.55 942.24,203.06 940,205 937.59,206.26 935.61,208.06 934.09,210.43 931.53,211.49 929.91,213.74 927.5,215 925,216 927.24,217.81 929.9,218.86 932.5,220 934.75,222.75 937.5,225 940.03,224.65 942.5,224 945.04,224.89 947.5,226 944.7,227.62 942.5,230 939.54,232.04 937.5,235"/>
<polyline points="598.3,416.7 601.06,417.43 604.02,417.11 606.7,418.3 610,421.7 612.72,423.98 615,426.7 617,429.83 618.3,433.3 618.84,435.91 619.77,438.38 620.33,440.98 621.7,443.3 621.08,445.8 619.53,447.82 618.3,450 621.01,450.23 623.3,451.7 625.77,453.05 627.76,455.04 630,456.7 632.87,457.8 635,460 638.3,456.7 640,453.3"/>
<polyline points="598.3,416.7 601.49,415.22 605,415 608,414.44 610.71,412.87 613.76,412.47 616.7,411.7 619.28,411.08 621.83,410.39 624.18,409.09 626.7,408.3 627.1,405.8 626.84,403.19 627.81,400.79 628.3,398.3 628.55,395.77 629.64,393.38 629.64,390.81 630,388.3 631.97,385.16 633.3,381.7 635.75,379.92 638.3,378.3 640.66,377.07 643.3,376.7"/>
<polyline points="640,400 642.79,400.44 645.52,401.19 648.3,401.7 650.52,403.77 653.3,405 654.95,407.3 655.8,410 654.89,412.67 653.3,415 653.96,417.77 653.84,420.53 653.3,423.3 654.8,425.58 655,428.3 657.65,428.69 659.99,430.02 662.28,431.5 665,431.7 667.67,433.05 670.6,433.74 673.3,435 675.87,436.54 678.3,438.3 678.03,441.23 678.54,444.15 678.9,447.07 678.3,450 677.3,452.68 677.07,455.5 676.7,458.3 674.16,459.5 671.5,460.23 668.81,460.88 666,461 664.08,463.19 663.3,466 660.64,466.55 657.98,465.82 655.32,465.34 652.66,466.65 650,466 647.18,465.25 644.46,464.23 641.7,463.3 640,465"/>
<polyline points="655.8,410 660,408.3 662.38,409.15 664.47,410.55 666.7,411.7 669.55,410.89 672.48,411.02 675.35,410.43 678.3,410.8 680.37,408.22 683.3,406.7 684.16,404.33 685.09,401.99 686.7,400 688.11,396.53 690,393.3 692.32,391.47 693.69,388.69 696.35,387.2 698.3,385 700.17,382.41 703.06,380.83 705,378.3 707.83,378.09 710.46,376.84 713.3,376.7 715.96,376.31 718.4,375.29 720.61,373.59 723.3,373.3"/>
<polyline points="723.3,373.3 726.2,373.3 728.87,372.1 731.7,371.7 734.27,370.1 736.7,368.3 738.77,366.08 740,363.3 741.33,360.59 743.3,358.3 746.65,358.32 750,358.3 752.52,358.02 755.1,358.12 757.4,356.45 760,356.7 762.54,355.01 765.44,354.2 768.3,353.3 771.76,352.94 775,351.7 778.3,353.3"/>
<polyline points="600,500 600.21,502.7 600.1,505.4 600.06,508.1 600,510.8 602.6,511.85 605,513.3 609.2,515 612.1,514.82 615,514.6 617.44,513.41 620,512.5 621.7,510 625,510 628.3,506.7 627.5,502.5 625.8,499.2 627.5,496.7 630.8,495.8 635,495 639.2,495 640.8,493.3 639.2,490 639.35,487.16 640.62,484.64 641.5,482 639.47,480.4 638.05,478.33 637,476 638.2,472.85 640,470 640.65,467.5 640,465"/>
<polyline points="620,512.5 622.51,512.17 625,511.7 629.2,510.8 631.7,511.7 635,513.3 638.3,514.2 640.76,513.49 643.3,513.8 646.7,514.2 650,516.7 653.3,518.3 656.7,518.3 660,520.8 663.3,522.5 666.7,523.3 670.8,522.5 674.2,522.9 676.7,524.2 680,526.7 683.3,529.2 686.7,531.7 690,533.3 692.65,533.6 695.3,533.3 695.02,530 695.3,526.7 694,523.3 694.26,520.71 693.3,518.3 696,515.3 698.71,515.22 701.3,516 706,515.3 706,512.7 702.7,509.7 698.7,509.3 698,505.3 695.42,504.44 692.7,504.3 693.3,502.3 696.01,502.07 698.58,503.42 701.3,503 703.9,503.85 706.7,503.12 709.3,504 711.97,504.56 714.7,504.7 717.58,503.33 720.7,502.7 722.34,505.36 724,508 725.38,510.54 727.91,512.17 729.3,514.7 733.3,516.7 735.95,517.61 738.51,518.7 740.7,520.5"/>
<polyline points="695.3,533.3 698.7,536.7 701.24,537.14 703.3,538.7 705.3,541.3 705.42,544 705.3,546.7 704.7,550 701.3,550.7 697.3,553.3 694.94,555.46 692,556.7 688,556.7 685.3,556 682.6,556 680,556.7 677.09,557.94 674.2,559.2 675.22,562.01 675,565 675.64,567.5 675,570 675,573.3 678.3,574.2 680.8,577.5 683.3,581.7 686.7,585 688.3,588.3 688.98,585.69 689,583"/>
<polyline points="686.7,585 689,588 688.5,591.5 688,595 688.33,598.5 688,602 685,605 682.5,604.81 680,605 678,602 676,598 673.75,596.25 672,594 671.46,591.01 671,588 668.5,587.34 666,588 662,586 658,585 655,587 653.96,589.35 652,591 648,592 645,595 642.5,595.26 640,595 638.3,596.85 637,599 635.46,596.72 635,594 632.25,592.92 630,591 628.27,589.14 626,588 623,585 622.04,582.6 620,581 618,577 620.15,574.49 622.36,572.03 625,570"/>
<polyline points="673.3,524.2 671.7,528.3 674.03,530.57 675.8,533.3 673.3,536.7 670.8,540 668.3,544.2 667.05,546.7 665.8,549.2 661.7,550.8 657.5,552.5 656.7,556.7 654.2,560.8 652.49,564.02 650,566.7 645.8,568.3 642.5,565 639.2,563.3 635,563.3 632.7,561.65 630,560.8 626.7,560.8 624.2,563.3 623.3,566.7 622.86,569.31 621.7,571.7 619.94,574.16 618.3,576.7 618,577"/>
<polyline points="618,613 620.16,615.07 623,616 626.41,614.88 630,615 633.1,614.3 636,613"/>
<polyline points="600,620 601.9,621.63 604,623 606.91,624.04 610,624 612.47,622.45 615,621 617,617 618,613 616,609 613,608 610.82,609.26 609,611 606.38,610.9 604,612 601,609 601.53,606.51 602,604 600,602"/>
<polyline points="689,583 688.42,585.5 689,588 689,591.57 688,595 688.93,597.53 690,600 690.27,602.5 689.86,605.06 690.92,607.48 691,610 691.57,613.49 692,617 689.92,618.92 688.12,621.12 686,623 683.89,624.63 682.26,626.66 681,629 683.62,628.29 686,627 689.67,627.4 693,629 692.82,632.11 694,635 690,637 689.93,640.5 690,644 690.87,647.04 692,650 696,651"/>
<polyline points="766.7,446.7 766.28,443.32 767,440 770.1,440.12 773,439 776.63,439.53 780,441 782.89,442.32 786,443 788.5,443.48 791,443 793.67,443.35 796.33,442.72 799,443 799,447.5"/>
<polyline points="799,447.5 800.14,444.35 800,441 798,437 799.08,434.53 800,432 801.97,429.48 804,427 806.03,424.52 808,422 810.22,420.8 812.41,419.55 813.93,417.41 816,416 817.75,413.97 819.88,412.37 821.6,410.29 824,409 827.03,408.7 830,408 833.6,408.18 837,407 837.62,404.51 839.33,402.48 840,400 840,398.3"/>
<polyline points="799,447.5 799.05,450.33 797.73,452.87 797.93,455.74 796.7,458.3 794.45,460.52 791.76,462.29 790,465 793.3,466.7 796.78,468.09 800,470 803.06,472.25 806.7,473.3 809.95,474.33 813.3,475 814.56,477.8 816.7,480 818.15,483.19 818.3,486.7"/>
<polyline points="816.7,478 820.03,477.11 823.3,476 826.69,475.94 830,476.7 833.3,473.3 836.65,473.5 840,473.3 843.2,474.76 846.7,475 849.84,473.53 853.3,473.3 856.7,470 860,466.7 863.35,466.63 866.7,466.7 868.3,465"/>
<polyline points="800,365 802.23,362.23 805,360 806.44,356.8 806.7,353.3 809.7,352.78 811.99,350.48 815,350 817.06,347.77 818.3,345 820.8,345.3 823.3,345 824.79,347.64 826.7,350 830.17,350.19 833.3,351.7 836.7,351.7 834.59,354.79 833.3,358.3 830,361.7 827.55,362.66 825,363.3 824.57,366.65 825,370 821.64,370.8 818.3,371.7 815.69,372.15 813.3,373.3 810,372.98 806.7,373.3 804.08,371.84 801.7,370 801.07,367.42 800,365"/>
<polyline points="825,370 826.45,367.61 828.42,365.6 830,363.3 832.32,361.38 835,360 837.36,361.26 840,361.7 840.89,364.99 841.7,368.3 841.08,371.71 840,375 841.15,378.6 843.3,381.7"/>
<polyline points="843.3,388.3 840,391.7 836.7,393.3 833.3,393.3 830,391.66 826.7,390 823.3,386.7 824.23,383.37 825,380 824.56,377.36 823.3,375 823.91,372.42 825,370"/>
<polygon points="48.75,377.5 51.3,376.35 53.75,375 53.78,372.42 55.29,370.12 55.68,367.61 55.5,364.99 56,362.5 58.45,361.64 60.55,359.99 62.91,358.93 65.31,357.94 67.9,357.39 69.98,355.7 72.5,355 75.13,355.15 77.38,353.41 79.92,353.08 82.39,352.44 85,352.5 86.57,355.23 88.75,357.5 91.16,356.82 93.64,356.46 96.05,355.76 98.59,355.69 101,355 102.18,352.68 103.25,350.3 104.82,348.2 105.96,345.86 107.5,343.75 110,343.21 112.5,344.2 115,344 117.5,343.98 120,344.29 122.5,343.75 124.91,341.55 127.39,339.45 130,337.5 132.47,336.56 134.96,335.71 137.57,335.22 139.78,333.51 142.48,333.29 145,332.5 147.52,331.43 149.91,330.08 152.23,328.55 155.12,328.32 157.22,326.32 160.04,325.92 162.3,324.28 164.74,323.02 167.5,322.5 167.05,320 166.89,317.5 167.01,315 167.76,312.5 167.5,310 169.05,306.99 170,303.75 172.38,301.52 175.14,299.75 177.5,297.5 176.38,295.01 175.33,292.5 174.73,289.79 172.92,287.61 172.56,284.79 171,282.5 171.07,279.98 170.86,277.48 169.71,275.06 169.62,272.55 170,270 167.14,268.88 164.88,266.85 162.5,265 165,262.5 167.65,262.48 170.13,261.76 172.61,261.08 174.87,259.48 177.57,259.65 180.09,259.12 182.61,258.55 185.1,257.9 187.38,256.39 189.89,255.81 192.6,256.02 195,255 197.45,255.75 199.91,256.38 202.51,256.18 204.91,257.2 207.58,256.59 210,257.5 210,255 207.79,253.18 205,252.5 205.54,250 204.77,247.5 205,245 206,242.41 208.06,240.54 209.72,238.4 210.83,235.88 212.5,233.75 213.01,231.17 214.36,228.98 216.13,226.98 216.27,224.22 218.41,222.4 218.61,219.67 220,217.5 222.59,217.68 225.12,218.14 227.35,219.91 229.87,220.38 232.56,220.17 235,221 237.68,220.43 240.36,221.21 243.04,221.54 245.71,220.32 248.39,221.19 251.07,221.5 253.75,221 256.24,220.38 258.77,219.97 261.34,219.73 263.75,218.75 264.02,215.55 265,212.5 264.43,210.03 264.72,207.48 264.32,204.99 264.05,202.5 263.75,200 264.79,197.4 266.8,195.27 267.5,192.5 270.15,191.71 272.95,191.75 275.7,191.54 278.27,190.36 281,190 281.96,187.18 284,185 284.62,181.39 286,178 288.78,177.29 291.58,177.31 294.38,177.17 297.19,177.38 300,177.5 302.52,177.57 305,178 304.45,180.89 303.75,183.75 305.43,186.99 307.5,190 309.94,190.86 312.44,191.5 315.05,191.69 317.5,192.5 319.84,195.16 322.5,197.5 324.98,198.4 327.66,198.67 330,200 332.48,201 335.09,201.64 337.41,203.04 340,203.75 342.43,204.63 345.08,204.52 347.52,205.35 350,206 350.81,208.53 351.77,211.02 352.87,213.47 353.6,216.02 353.75,218.75 355.03,221.38 357.12,223.34 359.25,225.26 361,227.5 360.57,229.98 360.92,232.53 360.11,234.98 359.57,237.45 360,240 357.68,242.79 356,246 356.42,248.87 356.08,251.84 356.54,254.7 357.5,257.5 360.12,257.39 362.52,258.38 365.01,258.93 367.56,259.19 370,260 372.77,260.66 375.69,260.51 378.34,261.84 381.11,262.49 384,262.5 386.64,261.89 389.29,262.77 391.93,262.17 394.57,262.69 397.21,262.77 399.86,263.17 402.5,262.5 404.85,263.89 407.58,264.29 409.88,265.8 412.68,266.04 415,267.5 417.35,269.26 420.06,270.4 422.67,271.72 425.19,273.19 427.5,275 430.08,275.11 432.42,276.41 435.11,275.95 437.57,276.63 440,277.5 441.65,280.47 442.5,283.75 444.01,285.87 444.35,288.53 445.6,290.77 446.58,293.13 447.35,295.59 448.99,297.65 450,300 452.33,301.42 454.06,303.44 455.61,305.64 457.5,307.5 460,307.8 462.5,308.09 465,307.52 467.5,307.12 470,307.63 472.5,307.5 474.91,308.46 477.53,307.98 479.91,309.17 482.42,309.49 484.98,309.39 487.5,309.62 490,310 492.52,309.59 495.02,309.68 497.53,309.69 499.99,310.6 502.49,310.85 504.97,311.36 507.49,310.92 509.97,311.58 512.5,311 514.99,310.72 517.47,310.2 519.96,309.96 522.48,310.13 525,310.33 527.54,310.82 530,310 532.53,309.97 535.04,310.13 537.47,311.06 540.02,310.84 542.49,311.33 545.05,311.01 547.45,312.24 549.94,312.58 552.46,312.61 555,312.5 556.19,314.96 558.52,316.52 560,318.75 562.96,318.88 565.64,320 568.2,321.56 571.14,321.74 574.03,322.14 576.7,323.3 579.74,323.68 582.63,324.55 585.42,325.77 588.3,326.7 590.77,327.43 593.27,327.5 595.78,327.46 598.28,327.59 600.82,326.93 603.3,327.5 605,330 608.25,331.23 611.7,331.7 614.82,329.66 618.3,328.3 621.11,327.23 623.66,325.49 626.7,325 629.67,324.41 632.04,322.32 635,321.7 637.57,320.21 640,318.5 642.55,318.14 645.05,317.53 647.56,317 649.96,315.99 652.59,315.98 655,315 657.5,315.61 660,315.16 662.5,315.67 665,315.49 667.5,314.38 670,315.24 672.5,314.43 675,315.23 677.5,315 679.99,314.68 682.53,315.21 684.96,313.94 687.54,315.05 689.96,313.65 692.46,313.52 695,314 697.11,311.75 699.71,310.23 702.5,309 705.35,308.08 707.74,306.4 710.3,305 712.27,302.62 715.14,301.73 717.5,300 720.23,298.68 722.68,296.93 725,295 727.05,293.52 729.72,293.18 731.75,291.68 733.92,290.43 736,289 736,285 733.49,283.58 731.25,281.78 729,280 729.36,277.5 729.02,275 729,272.5 730.15,269.99 731.87,267.75 732.5,265 734.6,263.25 737.14,262.06 739,260 742.01,260.67 744.48,262.54 747.13,264.02 750,265 752.55,264.48 754.98,265.61 757.52,265.2 759.99,265.84 762.49,266.01 765,266 767.28,264.34 770.27,264.16 772.34,262.08 774.78,260.74 777.5,260 779.62,258.27 781.46,256.18 784,255 786.5,253.83 789.33,254.11 791.74,252.58 794.51,252.56 797.25,252.4 799.74,251.19 802.48,251.05 805,250 807.71,249.16 809.79,247.08 812.23,245.72 815,245 815.4,242.5 815,240 817.36,238.36 819.35,236.35 821,234 823.82,233.62 826.5,232.68 829.4,232.62 832.08,231.66 834.84,231.02 837.5,230 840.09,230.15 842.4,228.55 845.06,229.08 847.52,228.45 849.89,227.24 852.5,227.5 855,227.16 857.5,227.8 860,227.54 862.5,227.59 865,227.2 867.5,227.59 870,228.03 872.5,228.17 875,227.5 877,230 876.82,227.49 876.82,224.97 875.68,222.56 876,220 875.5,217.5 876.08,215 876,212.5 874,214 872.29,212 869.66,211.13 867.69,209.45 866,207.43 863.83,206 861.68,204.53 860,202.5 857.5,202.98 855,202.61 852.5,202.09 850,202.96 847.5,202.07 845,203.1 842.5,202.85 840,202.5 837.33,204.83 835,207.5 832.24,207.14 829.91,205.73 827.32,204.95 824.86,203.85 822.5,202.5 819.85,202.68 817.63,204.36 814.92,204.3 812.35,204.75 810,206 807.28,204.28 805.32,201.6 802.5,200 803.53,197.39 805,195 806.81,193.23 808.09,191.07 809.33,188.87 811.43,187.32 812.5,185 813.86,182.78 814.49,180.22 815.93,178.04 816.68,175.54 817.78,173.2 819.72,171.26 820.88,168.95 820.96,166.13 822.5,164 824.86,165.19 827.43,165.54 830.17,165.21 832.63,165.97 835.02,167.04 837.37,168.28 839.87,168.88 842.5,169 844.85,167.54 847.47,166.64 850.25,166.11 852.33,164.06 854.77,162.78 857.45,162.03 860,161 862.53,160.92 865.07,160.85 867.5,160 868.52,157.6 867.83,154.87 869,152.5 870.11,149.77 871.55,147.23 873.62,145.07 875,142.5 876.32,140.28 878.35,138.54 879.42,136.16 880.85,134.02 882.36,131.93 883.23,129.41 885,127.5 887.33,126.44 889.3,124.9 891.27,123.36 893.24,121.82 895,120 894.54,117.5 894.37,115 894.81,112.5 895.3,110 895,107.5 892.42,107.41 890.1,105.99 887.6,105.51 885.05,105.23 882.5,105 884,101 886.82,99.81 889.48,98.21 892.5,97.5 895.14,97.03 897.35,95.32 900,94.87 902.5,94 905.33,94.36 908.17,94.19 911,94 913.75,92.65 916.92,92.5 919.54,90.76 922.5,90 924.98,89.53 927.49,89.2 930.04,89.21 932.41,87.93 935.03,88.41 937.5,87.84 940,87.5 942.45,88.22 945.02,87.91 947.49,88.5 949.92,89.35 952.5,89 955.28,89.7 957.32,91.87 960.02,92.71 962.5,94 965.03,93.97 967.53,94.19 970.04,94.36 972.5,95 974.82,96.45 977.65,96.61 979.76,98.6 982.49,99.02 985,100 987.69,101.77 990,104 991.33,107.03 993.24,109.72 995,112.5 995.86,115.25 998.11,117.27 999,120 1000.53,122.65 1002.5,125 1003.96,127.29 1004.59,129.86 1005,132.5 1006.36,134.95 1007.5,137.5 1008.9,139.89 1010.11,142.37 1011,145 1012.25,147.55 1013.36,150.16 1015,152.5 1015.74,154.97 1016.24,157.5 1016.49,160.1 1017.5,162.5 1020.27,164.73 1022.5,167.5 1024.92,168.49 1027.58,167.44 1030.02,168.22 1032.45,169.15 1035,169 1037.58,169.22 1040.05,169.94 1042.6,170.3 1044.85,171.98 1047.38,172.43 1050,172.5 1052.75,173.14 1054.98,174.88 1057.5,176 1060.19,176.64 1062.77,177.55 1065.16,178.89 1067.39,180.59 1069.98,181.45 1072.5,182.5 1072.8,185 1072.39,187.5 1072.5,190 1074.27,192.24 1075,195 1075.84,197.45 1076.8,199.86 1076.43,202.61 1077.5,205 1080.01,205.04 1082.48,205.7 1085.02,205.37 1087.51,205.68 1090,206 1092.51,205.96 1094.98,205.38 1097.5,205.64 1100.02,205.81 1102.47,204.69 1104.98,204.72 1107.5,205 1109.53,202.03 1112.5,200 1115,199.18 1117.33,197.88 1120.01,197.63 1122.36,196.35 1125,196 1127.51,195.45 1129.93,194.54 1132.58,194.59 1135.1,194.1 1137.65,193.71 1140,192.5 1142.5,192.45 1145,193.05 1147.5,193.01 1150,192.27 1152.5,192.5 1149.7,193.15 1147.5,195 1145.22,197.13 1144,200 1146.16,202.76 1147.5,206 1144.77,207.9 1142.33,210.14 1140,212.5 1138.85,214.94 1137.73,217.39 1137.29,220.12 1135.57,222.33 1135,225 1133.71,227.38 1133.41,230.16 1131.39,232.26 1131,235 1129.22,237.33 1128.53,240.32 1127.06,242.84 1125,245 1123.72,247.76 1121.48,249.87 1120,252.5 1118.39,254.85 1116.8,257.22 1116,260 1113.32,258.65 1110.22,258.73 1107.5,257.5 1104.9,257.29 1102.36,256.81 1099.96,255.77 1097.5,255 1095.03,255.94 1092.55,256.83 1090,257.5 1087.73,258.64 1085.91,260.37 1083.74,261.66 1081.7,263.09 1080,265 1080.14,267.57 1080.98,270 1081.62,272.48 1081.95,275.01 1082.5,277.5 1082.81,279.99 1082.76,282.52 1082.76,285.05 1083.25,287.52 1084.09,289.97 1084,292.5 1082.13,294.44 1080.45,296.54 1078.99,298.85 1077.21,300.87 1075,302.5 1074.44,305.02 1073.15,307.35 1072.85,309.93 1072.5,312.5 1069.56,310.44 1067.5,307.5 1064.68,308.68 1062.33,310.57 1060,312.5 1057.91,313.88 1056.41,316.05 1054.16,317.21 1052.14,318.69 1050,320 1047.51,320.65 1045.13,321.76 1042.46,321.7 1040,322.5 1037.46,322.97 1034.95,323.56 1032.5,324.38 1030,325 1028.68,327.46 1027.5,330 1029.23,332.26 1030,335 1027.53,334.38 1025.03,334.15 1022.53,334.01 1020.02,333.96 1017.48,334.53 1015,334 1012.39,333.27 1009.77,332.58 1007.65,330.63 1005,330 1002.27,330.8 1000,332.5 997.82,334.66 996.55,337.42 995,340 992.4,340.22 989.88,340.78 987.63,342.39 985,342.5 983.5,346.5 981.59,348.65 978.65,349.41 976.7,351.5 973.41,352.68 970.8,355 967.74,356.49 965,358.5 962.01,360.11 959.2,362 956.32,363.88 953.3,365.5 950.22,366.18 947.5,367.8 945.08,368.82 942.68,369.87 940,370 936.7,372 934.18,372.61 932,374 929.63,375.9 926.7,376.7 923.3,379.3 920,382 916.7,384.7 913.87,385.73 911.3,387.3 908.92,388.11 906.7,389.3 902.7,390.7 901.3,388 902.7,386 905.22,384.82 908,384.7 911.3,382.7 910.7,378.7 906.7,378 904,375.3 904,372.7 908,371.3 909.3,367.3 912.7,364.7 915.3,362.7 916.7,360 920,357.3 922.7,355.3 921.27,353.04 920,350.7 916.7,349.3 914,346 911.04,346.67 908,346.7 905.41,345.92 902.7,346 900.7,349.3 897.3,350 895.3,353.3 892,356.7 890.7,360.7 887.91,360.97 885.3,362 882.73,363.22 880,364 876.83,365.8 873.3,366.7 870,370 868.7,372.7 869.3,376 867.14,378.17 864.7,380 862.38,381.08 860,382 856.7,385 853.42,383.22 850,381.7 846.65,381.07 843.3,381.7 844.39,384.12 845,386.7 844.63,390.12 843.3,393.3 841.5,395.7 840,398.3 843.3,400 845.82,400.32 848.24,401.18 850.76,401.5 853.3,401.7 855.79,402.17 858.23,402.94 860.87,402.48 863.3,403.3 865.52,406.08 868.3,408.3 866.7,411.7 863.3,415 865,418.3 867.43,419.04 869.48,420.54 871.7,421.7 875,423.3 876.73,421.15 878.38,418.94 880,416.7 882.12,413.82 885,411.7 887.76,411.08 890.47,410.27 893.3,410 896.65,409.69 900,410 902.3,411.58 904.54,413.24 906.7,415 909.55,415.16 912.18,416.39 915,416.7 917.69,416.42 920,415 922.3,416.42 925.14,416.22 927.62,417.12 930,418.3 929.27,420.84 928.3,423.3 925.73,424.89 923.3,426.7 919.94,427.24 916.7,428.3 913.88,428.74 911.1,429.44 908.3,430 905.8,429.3 903.3,430 900.34,432.04 898.3,435 895,436.7 892.27,438 890,440 886.7,443.3 883.3,446.7 881.94,449.39 880,451.7 876.7,453.3 873.3,456.7 872.14,459.09 871.7,461.7 868.3,465 869.76,467.29 870,470 873.3,473.3 875.25,474.99 877.64,475.82 880,476.7 882.17,478.85 885,480 885.95,483.32 886.7,486.7 888.09,490.13 890,493.3 891.96,496.5 893.3,500 893.9,502.5 895.97,504.26 896.7,506.7 898.3,508.3 899.8,510.58 900,513.3 902.67,514.75 905,516.7 906.46,519.33 908.3,521.7 911.7,525 915,528.3 915.8,530.82 916.7,533.3 916.27,535.8 916.7,538.3 917.72,540.92 919.2,543.3 916.14,543.77 913.3,545 916.7,548.3 916.9,551.79 918.3,555 915.66,556.16 912.88,556.67 910,556.7 906.65,557 903.3,556.7 901.7,558.3 904.49,559.58 906.7,561.7 909.97,563.41 913.3,565 914.75,567.67 916.7,570 917.93,573.25 918.3,576.7 917.5,580 916.7,583.3 917.05,585.8 916.7,588.3 915.56,591.18 913.3,593.3 912.82,596.73 911.7,600 910.27,602.68 908.3,605 905.66,606.43 903.3,608.3 901.1,610.44 900,613.3 896.7,616.7 895.5,619.54 893.3,621.7 891.64,623.91 890.01,626.13 888.3,628.3 885,631.7 881.7,635 880.68,637.44 880,640 879.62,642.66 878.3,645 876.89,647.31 876.7,650 876.15,652.6 875,655 874.05,657.46 873.3,660 871.76,662.57 870,665 866.7,666.7 863.3,670 860,673.3 857.45,674.93 855,676.7 852.21,677.91 850,680 846.7,683.3 844.86,685.71 843.3,688.3 841.84,690.92 840,693.3 836.7,696.7 834.09,697.86 832.5,700.4 830,701.7 827.3,701.89 825,703.3 823.15,705.67 821.7,708.3 819.4,710.3 816.7,711.7 813.05,712.74 810,715 806.52,715.35 803.3,716.7 800,716.69 796.7,716.7 793.25,717.08 790,718.3 787.68,719.69 785,720 782.6,721.15 780,721.7 777.52,723.38 775,725 771.7,726.7 771.45,723.2 770,720 768.51,723.43 766.7,726.7 764.43,728.81 763.3,731.7 759.97,732.39 756.7,733.3 753.98,735.58 751.7,738.3 749.2,737.91 746.7,738.3 743.3,736.7 740.12,738 736.7,738.3 733.21,738.58 730,740 727.19,740.98 724.66,742.69 721.7,743.3 719.08,744.89 715.94,745.18 713.3,746.7 710.75,748.28 708.3,750 706.93,752.32 706.7,755 709.04,756.33 711.7,756.7 712.17,759.48 712.88,762.21 713.3,765 710.6,766.34 708.3,768.3 705,767.63 701.7,768.3 699.78,765.95 698.3,763.3 697.53,759.99 696.7,756.7 696.71,753.8 697.14,750.98 698.3,748.3 696.91,745.99 696.7,743.3 693.35,743.48 690,743.3 687.55,742.34 685,741.7 682.66,740.37 680,740 677.5,739.65 675,740 672.54,739.19 669.98,740.01 667.53,739.01 664.98,739.58 662.49,739.34 660,739 657.52,737.94 655.26,736.35 652.48,736.05 650,735 647.16,733.85 644.9,731.82 642.5,730 642.59,727.5 642.76,725 642.01,722.5 642.2,720 642.5,717.5 639.79,716.67 637.51,714.98 634.93,713.88 632.5,712.5 629.94,712.12 627.5,711.24 625.09,710.28 622.5,710 620,707.5 617.5,707.34 615,707.5 612.35,708.46 610,710 607.56,711.37 604.73,711.97 602.74,714.23 600,715 597.92,717.92 595,720 592.48,720.48 590,719.86 587.49,720 584.99,720.09 582.48,720.27 580,719.5 577.07,718.6 573.9,719.11 571,718 567.92,719.34 565,721 562.37,720.86 560.07,722.34 557.5,722.5 554.44,723.89 551.5,725.5 550.96,728.5 551.5,731.5 552.58,733.97 552.95,736.72 554.5,739 555.15,742 554.4,745 554.5,748 551.5,747.61 548.5,748 545.5,746.5 544.49,743.5 543.94,740.35 542.5,737.5 539.65,738.42 537.26,740.09 535,742 532,742.03 529,741.73 526,742 524.92,739.69 523.14,737.9 521.5,736 518.8,734.2 517,731.5 513.93,731.41 511.03,730.35 508,730 509.5,725.5 510.15,722.31 511.8,719.5 511.83,716.91 513.45,714.63 513.3,712 509.5,709 507.5,707.5 505.91,705.45 503.5,704.5 502.7,701.32 501.4,698.35 499.8,695.5 499.29,692.16 499,688.8 496.03,689.4 493.05,689.87 490,689.5 487.64,690.86 485,691.5 482.5,692.5 478.8,693.3 479.35,690.56 479.12,687.7 480,685 479.54,682.01 479.02,679.02 478.8,676 481,673 482.97,670.24 484,667 486.09,665.27 488.5,664 490,659.5 492.28,658.38 494.12,656.66 496,655 499,652 500.1,649.1 500,646 499.94,642.97 500.5,640 500.18,637.38 500.48,634.75 500.17,632.12 500.5,629.5 500.27,626.85 500.38,624.16 499.42,621.62 499,619 496.28,617.87 493.68,616.54 491.5,614.5 490.84,611.62 489.76,608.85 489,606 485.5,602.5 482.37,601.22 480,598.8 478.4,601.5 476.5,604 475.35,606.9 475,610 472.62,612.12 470.5,614.5 468.81,612.38 467.5,610 465.24,608.4 462.75,607.37 459.75,607.62 457.5,606 454.93,605.87 452.53,604.85 449.96,604.72 447.5,604 445.17,605.53 442.32,605.95 440,607.5 437.21,608.52 435.01,610.51 432.17,611.44 429.95,613.41 427.5,615 424.93,615.83 422.49,616.98 419.85,617.62 417.29,618.48 415,620 413.33,622.5 411.69,625.02 410,627.5 407.37,627.94 404.85,628.71 402.5,630 399.98,629.98 397.54,630.87 395.04,631.12 392.52,630.99 390,631 387.5,631.64 385,631.21 382.5,631.19 380,631 378.86,628.37 378.26,625.61 378.31,622.71 377.5,620 375.39,617.11 372.5,615 370.53,613.25 369.41,610.8 367.5,609 365.02,609.45 362.59,610.35 360,610 357.65,608.79 354.87,609.28 352.49,608.15 350,607.5 347.34,607.53 344.93,606.54 342.45,605.82 340,605 337.59,606.81 334.98,608.31 332.5,610 330.29,612.14 329.04,614.91 327.5,617.5 327.07,620.01 326.04,622.41 326,625 322.5,622.5 322.44,620 322.78,617.5 322.42,615 322.5,612.5 320.2,610.47 317.5,609 315.13,610.14 312.6,610.61 309.94,610.48 307.42,611.01 305.04,612.11 302.5,612.5 300,613.14 297.5,612.34 295,613.05 292.5,612.66 290,612.5 287.64,611.22 285.14,610.35 282.65,609.45 280,609 277.57,609.88 274.96,609.34 272.5,610 270.33,608.42 269.69,605.57 267.5,604 265.05,603.29 262.56,602.87 260.07,602.38 257.5,602.5 256.65,599.8 255,597.5 252.66,595.92 250,595 247.77,593.21 244.73,593.04 242.24,591.78 240,590 239.44,587.41 237.83,585.17 237.5,582.5 234.92,582.58 232.52,583.62 230,584 227.72,581.72 225,580 222.22,578.97 220.04,576.94 217.66,575.24 215,574 212.68,572.1 209.76,571.12 207.3,569.43 205,567.5 202.84,564.66 200,562.5 197.6,561.48 195,561.24 192.34,561.28 190,560 188.08,562.33 186.37,564.8 185,567.5 182.64,565.18 180.43,562.67 177.5,561 175.06,559.95 172.65,558.83 169.88,558.71 167.5,557.5 164.79,555.21 162.5,552.5 160.37,550.27 157.89,548.59 155,547.5 152.5,548.05 150,547.33 147.5,547.5 145.18,544.82 142.5,542.5 142.15,539.97 141.35,537.53 141,535 139.57,532.59 139.03,529.74 136.8,527.73 136,525 135.1,522.58 135.68,519.95 135,517.5 137.74,515.62 141,515 143.61,517.39 146,520 147.41,517.54 148.89,515.12 150,512.5 149.04,510.08 148.94,507.45 148.34,504.95 147.5,502.5 145.61,500.48 143.14,499.2 141,497.5 141.4,494.95 140.53,492.51 140.98,489.95 140.06,487.51 140,485 141.91,483.2 143.11,480.81 145,479 142.31,477.83 139.62,476.67 136.54,476.58 134,475 133.01,472.32 130.82,470.27 130,467.5 130.15,464.59 129,461.79 128.89,458.91 129,456 126.18,456.06 123.38,455.93 120.61,455.25 117.78,455.41 115,455 112.61,453.94 109.96,453.91 107.59,452.75 105,452.5 102.35,450.96 100,449 97.52,447.63 95.06,446.23 92.5,445 91.8,442.54 91.89,439.92 91.17,437.47 90.57,434.99 90,432.5 87.6,431.05 84.83,430.34 82.39,428.97 80,427.5 77.59,426.56 75.04,426.4 72.49,426.3 70.11,425.15 67.6,424.8 65,425 65,421 67.56,420.79 69.9,419.48 72.47,419.35 75,419 72.5,415 71.98,412.52 71.83,409.99 71.09,407.54 71,405 70.7,402.51 71.04,399.95 69.71,397.55 70,395 67.39,395.07 65.01,393.96 62.37,394.16 59.96,393.19 57.5,392.5 55.12,391.11 53.4,388.87 51,387.5 50.01,385.1 49.91,382.49 49.82,379.89"/>
<polygon points="680,785 681.73,782.58 684.26,780.96 685.9,778.45 688.3,776.7 691.21,775.84 693.96,774.57 696.7,773.3 699.44,772.61 702.26,772.39 705,771.7 707.79,771.22 710.41,769.94 713.3,770 716.63,771.69 720,773.3 720.69,776.69 721.7,780 719.18,782.48 716.7,785 715.08,787.57 714.13,790.41 713.3,793.3 711.8,796.73 710,800 708.17,801.97 706.18,803.76 703.5,804.69 701.7,806.7 699.31,808.15 697.14,809.91 695,811.7 692.73,810.64 690.53,809.43 688.3,808.3 685.39,807.56 682.78,806.06 680,805 678.89,802.62 678.91,799.96 678.3,797.46 677.5,795 678.36,792.56 678.41,789.91 678.82,787.36"/>
<polygon points="909.3,664 912.7,665.3 916,668.7 918,671.3 915.3,673.3 914.63,676.65 915.3,680 914.49,682.69 913.28,685.24 912.7,688 911.71,690.59 911.75,693.43 910.7,696 910.61,699.22 909.23,702.17 908.7,705.3 908.05,708.17 906.59,710.7 905.3,713.3 902.58,715.65 900.7,718.7 899.21,721.17 898.7,724 899,727.14 898.82,730.24 898,733.3 896,734.7 893.3,732 892.61,728.68 892.7,725.3 888,724 887.06,721.14 885.3,718.7 883.8,716.24 883.2,713.49 882.7,710.7 882.3,707.99 882.48,705.32 883.18,702.68 883.3,700 883.89,697.19 885.3,694.7 887.2,691.92 889.3,689.3 890.94,686.8 892,684 893.61,681.47 894.56,678.61 896,676 898.08,674.02 899.61,671.6 901.3,669.3 904.2,668.41 906.7,666.7"/>
</g>
<g fill="none" stroke="#5E5E5E" stroke-linecap="round">
<polyline points="882.8,792.5 872.2,814.5" stroke-width="1"/>
<polyline points="689.2,850 695,858 699.7,873" stroke-width="1"/>
<polyline points="865.1,852.8 865.1,875.8" stroke-width="2"/>
<polyline points="708.3,931.4 707.5,945 703.5,952.5" stroke-width="1.3"/>
<polyline points="863.6,936.2 855,960.2" stroke-width="1"/>
<polyline points="814.7,1018.4 801.3,1035.6" stroke-width="1"/>
<polyline points="670.5,1037 671.9,1059" stroke-width="1.6"/>
<polyline points="753.4,1105 734.2,1112.3" stroke-width="1.2"/>
<polyline points="693,1031 697,1028 700.7,1027.4" stroke-width="1.3"/>
<polyline points="932,679.3 926.7,702.7" stroke-width="2"/>
<polyline points="916.7,738 902,756.7" stroke-width="1"/>
</g>
<g fill="#5E5E5E">
<rect x="755.5" y="782.7" width="1.6" height="1.6"/>
<rect x="770.8" y="788.8" width="1.6" height="1.6"/>
<rect x="822.5" y="847.2" width="1.6" height="1.6"/>
<rect x="840.7" y="871.2" width="1.6" height="1.6"/>
<rect x="798.6" y="896.2" width="1.6" height="1.6"/>
<rect x="808.2" y="751.2" width="1.6" height="1.6"/>
<rect x="824.2" y="758.2" width="1.6" height="1.6"/>
<rect x="728.2" y="831.7" width="1.6" height="1.6"/>
<rect x="742.2" y="834.2" width="1.6" height="1.6"/>
<rect x="732.2" y="844.2" width="1.6" height="1.6"/>
<rect x="737.2" y="847.2" width="1.6" height="1.6"/>
<rect x="744.2" y="847.2" width="1.6" height="1.6"/>
<rect x="747.2" y="845.2" width="1.6" height="1.6"/>
<rect x="730.2" y="850.2" width="1.6" height="1.6"/>
<rect x="733.2" y="852.2" width="1.6" height="1.6"/>
<rect x="747.2" y="852.7" width="1.6" height="1.6"/>
<rect x="741.2" y="859.2" width="1.6" height="1.6"/>
<rect x="774.2" y="854.2" width="1.6" height="1.6"/>
<rect x="779.2" y="851.2" width="1.6" height="1.6"/>
<rect x="785.2" y="850.2" width="1.6" height="1.6"/>
<rect x="788.2" y="853.2" width="1.6" height="1.6"/>
<rect x="771.2" y="864.2" width="1.6" height="1.6"/>
<rect x="782.2" y="862.2" width="1.6" height="1.6"/>
<rect x="785.2" y="946.2" width="1.6" height="1.6"/>
<rect x="786.2" y="954.2" width="1.6" height="1.6"/>
<rect x="775.2" y="958.2" width="1.6" height="1.6"/>
<rect x="782.2" y="961.2" width="1.6" height="1.6"/>
<rect x="790.2" y="958.2" width="1.6" height="1.6"/>
<rect x="822.2" y="946.2" width="1.6" height="1.6"/>
<rect x="832.2" y="955.2" width="1.6" height="1.6"/>
<rect x="834.2" y="959.2" width="1.6" height="1.6"/>
<rect x="842.2" y="960.2" width="1.6" height="1.6"/>
<rect x="820.2" y="968.2" width="1.6" height="1.6"/>
<rect x="817.2" y="970.2" width="1.6" height="1.6"/>
<rect x="835.2" y="969.2" width="1.6" height="1.6"/>
<rect x="835.2" y="974.2" width="1.6" height="1.6"/>
<rect x="766.2" y="971.2" width="1.6" height="1.6"/>
<rect x="778.2" y="970.2" width="1.6" height="1.6"/>
<rect x="785.2" y="969.2" width="1.6" height="1.6"/>
<rect x="770.2" y="974.2" width="1.6" height="1.6"/>
<rect x="785.2" y="977.2" width="1.6" height="1.6"/>
<rect x="785.2" y="981.2" width="1.6" height="1.6"/>
<rect x="797.2" y="972.2" width="1.6" height="1.6"/>
<rect x="810.2" y="973.2" width="1.6" height="1.6"/>
<rect x="811.2" y="983.2" width="1.6" height="1.6"/>
<rect x="799.2" y="981.2" width="1.6" height="1.6"/>
<rect x="806.2" y="989.2" width="1.6" height="1.6"/>
<rect x="809.2" y="995.2" width="1.6" height="1.6"/>
<rect x="820.2" y="992.2" width="1.6" height="1.6"/>
<rect x="822.2" y="998.2" width="1.6" height="1.6"/>
<rect x="821.2" y="1005.2" width="1.6" height="1.6"/>
<rect x="814.2" y="1004.2" width="1.6" height="1.6"/>
<rect x="807.2" y="1009.2" width="1.6" height="1.6"/>
<rect x="782.2" y="999.2" width="1.6" height="1.6"/>
<rect x="776.2" y="1007.2" width="1.6" height="1.6"/>
<rect x="787.2" y="1009.2" width="1.6" height="1.6"/>
<rect x="794.2" y="1011.2" width="1.6" height="1.6"/>
<rect x="799.2" y="1019.2" width="1.6" height="1.6"/>
<rect x="732.2" y="1005.2" width="1.6" height="1.6"/>
<rect x="738.2" y="1004.2" width="1.6" height="1.6"/>
<rect x="747.2" y="999.2" width="1.6" height="1.6"/>
<rect x="754.2" y="999.2" width="1.6" height="1.6"/>
<rect x="768.2" y="998.2" width="1.6" height="1.6"/>
<rect x="774.2" y="997.2" width="1.6" height="1.6"/>
<rect x="783.2" y="1002.2" width="1.6" height="1.6"/>
<rect x="794.2" y="999.2" width="1.6" height="1.6"/>
<rect x="755.2" y="1012.2" width="1.6" height="1.6"/>
<rect x="758.2" y="1012.2" width="1.6" height="1.6"/>
<rect x="772.2" y="1013.2" width="1.6" height="1.6"/>
<rect x="728.2" y="1021.2" width="1.6" height="1.6"/>
<rect x="732.2" y="1025.2" width="1.6" height="1.6"/>
<rect x="740.2" y="1023.2" width="1.6" height="1.6"/>
<rect x="710.2" y="1014.2" width="1.6" height="1.6"/>
<rect x="713.2" y="1019.2" width="1.6" height="1.6"/>
<rect x="732.2" y="1032.2" width="1.6" height="1.6"/>
<rect x="759.2" y="1019.2" width="1.6" height="1.6"/>
<rect x="789.2" y="1012.2" width="1.6" height="1.6"/>
<rect x="786.2" y="1017.2" width="1.6" height="1.6"/>
<rect x="788.2" y="1023.2" width="1.6" height="1.6"/>
<rect x="789.2" y="1032.2" width="1.6" height="1.6"/>
<rect x="766.2" y="1040.2" width="1.6" height="1.6"/>
<rect x="760.2" y="1052.2" width="1.6" height="1.6"/>
<rect x="746.2" y="1062.2" width="1.6" height="1.6"/>
<rect x="747.2" y="1067.2" width="1.6" height="1.6"/>
<rect x="748.2" y="1071.2" width="1.6" height="1.6"/>
<rect x="747.2" y="1077.2" width="1.6" height="1.6"/>
<rect x="753.2" y="1077.2" width="1.6" height="1.6"/>
<rect x="738.2" y="1101.2" width="1.6" height="1.6"/>
<rect x="742.2" y="1100.2" width="1.6" height="1.6"/>
<rect x="941.9" y="650.5" width="1.6" height="1.6"/>
<rect x="946.2" y="653.2" width="1.6" height="1.6"/>
<rect x="962.5" y="651.2" width="1.6" height="1.6"/>
<rect x="919.2" y="659.2" width="1.6" height="1.6"/>
<rect x="873.9" y="699.2" width="1.6" height="1.6"/>
<rect x="871.2" y="707.2" width="1.6" height="1.6"/>
<rect x="907.9" y="717.9" width="1.6" height="1.6"/>
<rect x="908.5" y="729.9" width="1.6" height="1.6"/>
<rect x="874.2" y="701.2" width="1.6" height="1.6"/>
<rect x="924.2" y="565.2" width="1.6" height="1.6"/>
<rect x="920.2" y="562.2" width="1.6" height="1.6"/>
<rect x="927.2" y="561.2" width="1.6" height="1.6"/>
<rect x="918.2" y="570.2" width="1.6" height="1.6"/>
<rect x="922.2" y="574.2" width="1.6" height="1.6"/>
<rect x="932.2" y="560.2" width="1.6" height="1.6"/>
<rect x="929.2" y="563.2" width="1.6" height="1.6"/>
<rect x="921.2" y="596.2" width="1.6" height="1.6"/>
<rect x="914.2" y="598.2" width="1.6" height="1.6"/>
<rect x="912.2" y="611.2" width="1.6" height="1.6"/>
<rect x="909.2" y="616.2" width="1.6" height="1.6"/>
<rect x="899.2" y="632.2" width="1.6" height="1.6"/>
<rect x="899.2" y="625.2" width="1.6" height="1.6"/>
</g>
<polygon points="772,1026 776,1022 781,1019 785,1019 783,1023 778,1027 773,1027.5" fill="#D9D9D9" stroke="#5E5E5E" stroke-width="0.8"/>
<g fill="#D9D9D9" stroke="#5E5E5E" stroke-width="1.1" shape-rendering="crispEdges">
<polygon points="914.5,567 916,565.5 918,565 919.62,564.53 921,565.5 923.5,567 925.05,567.63 926,569 926.5,571 925,573 923,575 921,576.5 919,575 917.5,573 916,571 915,569"/>
<polygon points="916.5,561.5 918.05,560.91 919.52,561.42 921,561.8 921,563.5 919.5,564.29 918,563.85 916.5,563.5"/>
<polygon points="922.3,559 924.15,559.42 926,559 926,560.5 924.15,560.27 922.3,560.5"/>
<polygon points="874.5,636.5 875.34,634.99 877,634.5 878.41,635.29 880,635 882,634 884.5,634.5 885,637 884.5,639.3 882,639 880.55,638.35 879,638 877.58,638.7 876,638.5"/>
<polygon points="872,657.5 873.46,656.99 875,656.8 876.65,656.5 878,657.5 880,659.5 879.5,662 877,663 874.5,664.3 873.6,663.06 872.5,662 871.75,660.56 872.14,659"/>
<polygon points="862,666 864.5,665 865.82,665.92 867,667 866,669.5 863.5,670.8 862.5,668.5"/>
<polygon points="846,680 848.5,679 851,680.5 853.01,680.24 854.6,681.5 853,683.6 850.95,683.61 849,683 846.5,682.5"/>
</g>
<g fill="#000" shape-rendering="crispEdges"><rect x="24" y="24" width="1152" height="1"/><rect x="24" y="24" width="1" height="1152"/><rect x="24" y="1174" width="1152" height="2"/><rect x="1174" y="24" width="2" height="1152"/></g>
<g fill="#000">
<text x="51" y="108.5" font-family="'Liberation Serif','Noto Serif CJK SC',serif" font-size="50">父系</text>
<text x="156.5" y="106.5" font-family="'Liberation Serif','Noto Serif CJK SC',serif" font-size="29" stroke="#000" stroke-width="3.4" stroke-linejoin="round">：</text>
<text x="218" y="107" font-family="'Liberation Sans',Arial,sans-serif" font-size="52" stroke="#000" stroke-width="0.35">O-BY57897 (</text>
<text x="522" y="107" font-family="'Liberation Serif','Noto Serif CJK SC',serif" font-size="52">含下游</text>
<text x="679.5" y="107" font-family="'Liberation Sans',Arial,sans-serif" font-size="52" stroke="#000" stroke-width="0.35">)</text>
<text x="54.8" y="786.5" font-family="'Liberation Serif','Noto Serif CJK SC',serif" font-size="35.5" letter-spacing="1.4">相对占比</text>
<rect x="58" y="805.00" width="32.75" height="33.8" fill="#FFFFE5"/>
<text x="100" y="834.00" font-family="'Liberation Sans',Arial,sans-serif" font-size="28.4" textLength="219" lengthAdjust="spacing">0.029% - 0.071%</text>
<rect x="58" y="838.58" width="32.75" height="33.8" fill="#FFF8C1"/>
<text x="100" y="867.58" font-family="'Liberation Sans',Arial,sans-serif" font-size="28.4" textLength="219" lengthAdjust="spacing">0.071% - 0.135%</text>
<rect x="58" y="872.15" width="32.75" height="33.8" fill="#FEE79B"/>
<text x="100" y="901.15" font-family="'Liberation Sans',Arial,sans-serif" font-size="28.4" textLength="219" lengthAdjust="spacing">0.135% - 0.191%</text>
<rect x="58" y="905.73" width="32.75" height="33.8" fill="#FECE65"/>
<text x="100" y="934.73" font-family="'Liberation Sans',Arial,sans-serif" font-size="28.4" textLength="219" lengthAdjust="spacing">0.191% - 0.280%</text>
<rect x="58" y="939.30" width="32.75" height="33.8" fill="#FEAC3A"/>
<text x="100" y="968.30" font-family="'Liberation Sans',Arial,sans-serif" font-size="28.4" textLength="219" lengthAdjust="spacing">0.280% - 0.358%</text>
<rect x="58" y="972.88" width="32.75" height="33.8" fill="#F6871F"/>
<text x="100" y="1001.88" font-family="'Liberation Sans',Arial,sans-serif" font-size="28.4" textLength="219" lengthAdjust="spacing">0.358% - 0.459%</text>
<rect x="58" y="1006.45" width="32.75" height="33.8" fill="#E1640E"/>
<text x="100" y="1035.45" font-family="'Liberation Sans',Arial,sans-serif" font-size="28.4" textLength="219" lengthAdjust="spacing">0.459% - 0.704%</text>
<rect x="58" y="1040.03" width="32.75" height="33.8" fill="#C14702"/>
<text x="100" y="1069.03" font-family="'Liberation Sans',Arial,sans-serif" font-size="28.4" textLength="219" lengthAdjust="spacing">0.704% - 0.962%</text>
<rect x="58" y="1073.60" width="32.75" height="33.8" fill="#933204"/>
<text x="100" y="1102.60" font-family="'Liberation Sans',Arial,sans-serif" font-size="28.4" textLength="219" lengthAdjust="spacing">0.962% - 1.136%</text>
<rect x="58" y="1107.17" width="32.75" height="33.8" fill="#662506"/>
<text x="100" y="1136.17" font-family="'Liberation Sans',Arial,sans-serif" font-size="28.4" textLength="219" lengthAdjust="spacing">1.136% - 2.500%</text>
<text x="945" y="1138" font-family="'Liberation Serif','Noto Serif CJK SC',serif" font-size="27.9">作者<tspan font-family="'Liberation Sans',Arial,sans-serif">:O1a</tspan>溯源群</text>
</g>
</svg></body></html>
